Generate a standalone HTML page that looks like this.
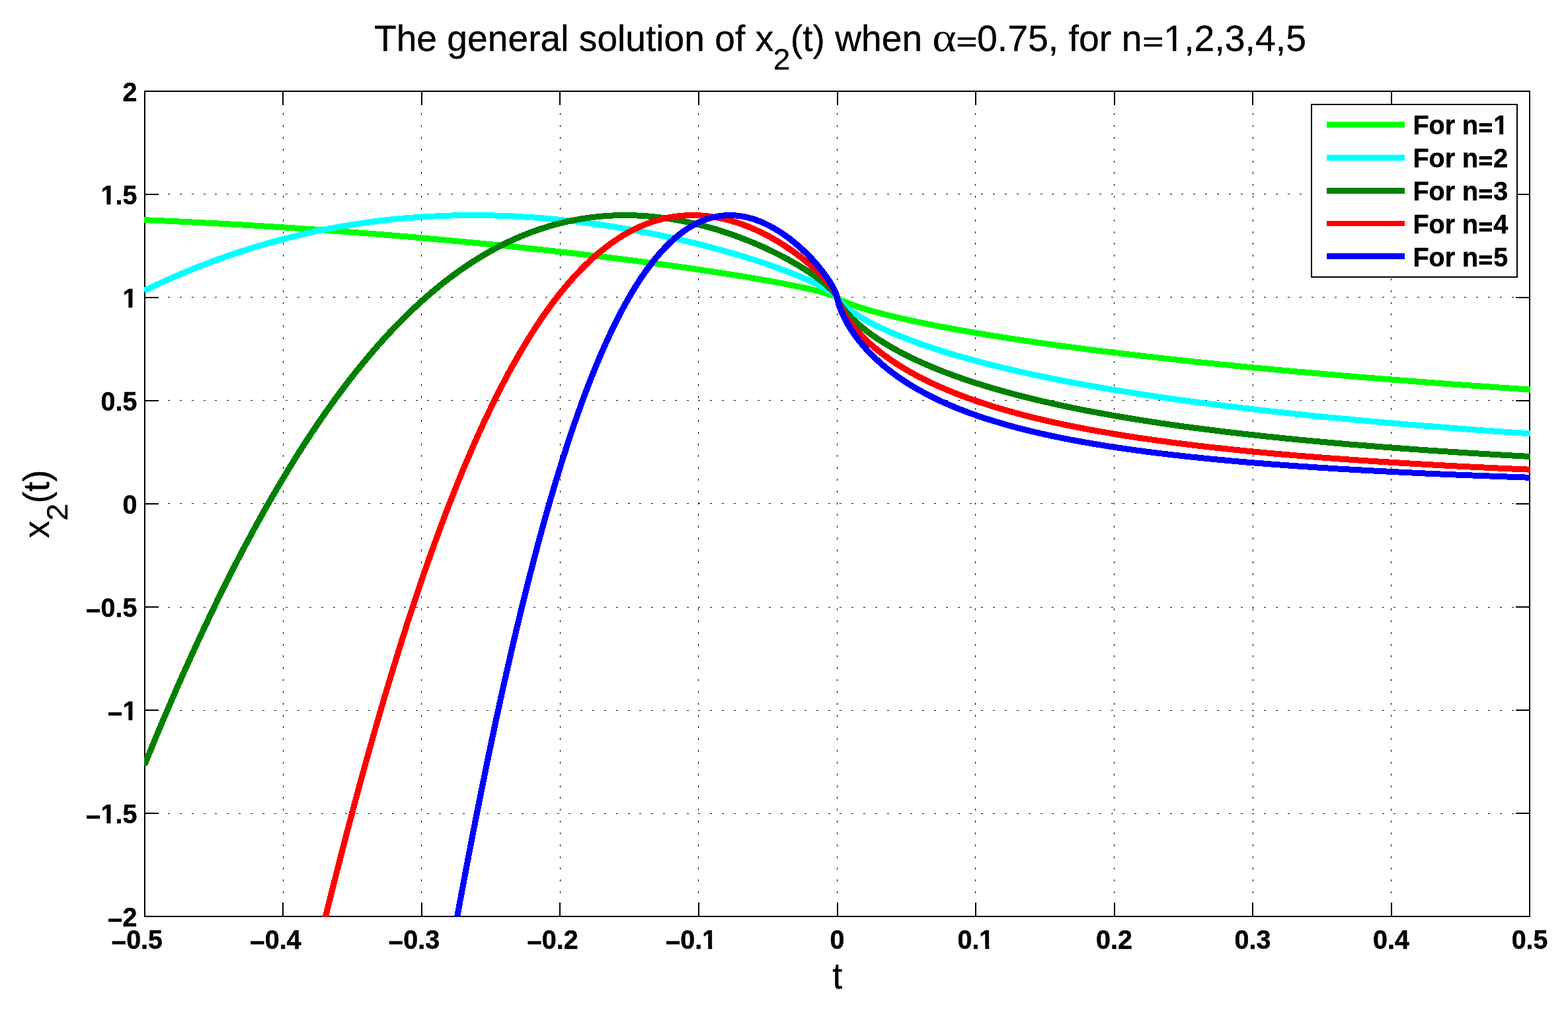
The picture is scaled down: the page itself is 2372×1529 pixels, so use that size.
<!DOCTYPE html>
<html lang="en"><head><meta charset="utf-8"><title>The general solution of x2(t) when α=0.75, for n=1,2,3,4,5</title>
<style>html,body{margin:0;padding:0;background:#fff;overflow:hidden}svg{display:block}</style></head>
<body>
<svg width="2372" height="1529" viewBox="0 0 2372 1529">
<defs><clipPath id="ax"><rect x="218" y="137" width="2097" height="1250"/></clipPath></defs>
<rect width="2372" height="1529" fill="#fff"/>
<g stroke="#000" stroke-width="2" fill="none" shape-rendering="crispEdges">
<rect x="219" y="138" width="2095" height="1248"/>
<line x1="428" y1="1386" x2="428" y2="1365"/>
<line x1="428" y1="138" x2="428" y2="159"/>
<line x1="638" y1="1386" x2="638" y2="1365"/>
<line x1="638" y1="138" x2="638" y2="159"/>
<line x1="847" y1="1386" x2="847" y2="1365"/>
<line x1="847" y1="138" x2="847" y2="159"/>
<line x1="1057" y1="1386" x2="1057" y2="1365"/>
<line x1="1057" y1="138" x2="1057" y2="159"/>
<line x1="1267" y1="1386" x2="1267" y2="1365"/>
<line x1="1267" y1="138" x2="1267" y2="159"/>
<line x1="1476" y1="1386" x2="1476" y2="1365"/>
<line x1="1476" y1="138" x2="1476" y2="159"/>
<line x1="1686" y1="1386" x2="1686" y2="1365"/>
<line x1="1686" y1="138" x2="1686" y2="159"/>
<line x1="1895" y1="1386" x2="1895" y2="1365"/>
<line x1="1895" y1="138" x2="1895" y2="159"/>
<line x1="2105" y1="1386" x2="2105" y2="1365"/>
<line x1="2105" y1="138" x2="2105" y2="159"/>
<line x1="219" y1="294" x2="240" y2="294"/>
<line x1="2314" y1="294" x2="2293" y2="294"/>
<line x1="219" y1="450" x2="240" y2="450"/>
<line x1="2314" y1="450" x2="2293" y2="450"/>
<line x1="219" y1="606" x2="240" y2="606"/>
<line x1="2314" y1="606" x2="2293" y2="606"/>
<line x1="219" y1="762" x2="240" y2="762"/>
<line x1="2314" y1="762" x2="2293" y2="762"/>
<line x1="219" y1="918" x2="240" y2="918"/>
<line x1="2314" y1="918" x2="2293" y2="918"/>
<line x1="219" y1="1074" x2="240" y2="1074"/>
<line x1="2314" y1="1074" x2="2293" y2="1074"/>
<line x1="219" y1="1230" x2="240" y2="1230"/>
<line x1="2314" y1="1230" x2="2293" y2="1230"/>
</g>
<g stroke="#000" stroke-width="1" stroke-dasharray="3 14.8295" shape-rendering="crispEdges" fill="none">
<line x1="428.5" y1="1386.7" x2="428.5" y2="138"/>
<line x1="637.5" y1="1386.7" x2="637.5" y2="138"/>
<line x1="847.5" y1="1386.7" x2="847.5" y2="138"/>
<line x1="1056.5" y1="1386.7" x2="1056.5" y2="138"/>
<line x1="1266.5" y1="1386.7" x2="1266.5" y2="138"/>
<line x1="1475.5" y1="1386.7" x2="1475.5" y2="138"/>
<line x1="1685.5" y1="1386.7" x2="1685.5" y2="138"/>
<line x1="1895.5" y1="1386.7" x2="1895.5" y2="138"/>
<line x1="2104.5" y1="1386.7" x2="2104.5" y2="138"/>
<line x1="218.5" y1="293.5" x2="2314" y2="293.5"/>
<line x1="218.5" y1="449.5" x2="2314" y2="449.5"/>
<line x1="218.5" y1="605.5" x2="2314" y2="605.5"/>
<line x1="218.5" y1="761.5" x2="2314" y2="761.5"/>
<line x1="218.5" y1="918.5" x2="2314" y2="918.5"/>
<line x1="218.5" y1="1074.5" x2="2314" y2="1074.5"/>
<line x1="218.5" y1="1230.5" x2="2314" y2="1230.5"/>
</g>
<g clip-path="url(#ax)" fill="none" stroke-width="7.94" stroke-linejoin="round" shape-rendering="crispEdges">
<g stroke="#00ff00">
<polyline transform="translate(-0.5,-0.5)" points="218.7,332.7 262.4,334.6 306.4,336.8 350.5,339.1 394.5,341.7 438.7,344.5 483.0,347.5 527.3,350.8 571.5,354.2 615.8,357.9 660.1,361.8 704.1,365.9 747.8,370.2 791.0,374.6 833.7,379.3 875.9,384.1 917.0,389.0 937.7,391.5 958.1,394.1 978.3,396.8 998.0,399.4 1017.3,402.0 1036.2,404.7 1054.5,407.3 1072.4,410.0 1089.9,412.7 1106.7,415.3 1122.9,417.9 1138.4,420.5 1153.3,423.1 1167.4,425.6 1181.1,428.1 1193.6,430.6 1203.1,432.5 1212.0,434.3 1220.3,436.1 1227.9,437.9 1235.0,439.6 1241.6,441.2 1247.6,442.8 1252.8,444.4 1256.5,445.5 1259.6,446.6 1262.3,447.6 1264.4,448.5 1265.4,449.0 1266.2,449.6 1266.5,449.9 1266.7,450.3 1267.2,450.8 1268.3,451.6 1269.6,452.4 1271.2,453.3 1272.7,454.2 1274.8,455.2 1276.9,456.2 1280.6,457.7 1284.5,459.3 1289.0,460.9 1294.0,462.7 1300.5,464.8 1307.3,466.9 1314.9,469.2 1322.8,471.4 1331.1,473.6 1340.1,475.9 1349.2,478.2 1358.9,480.5 1369.4,482.9 1380.1,485.2 1391.4,487.6 1402.9,490.0 1415.0,492.4 1427.3,494.7 1440.1,497.1 1453.2,499.5 1466.6,501.8 1480.5,504.2 1494.6,506.6 1509.3,508.9 1524.2,511.3 1539.4,513.6 1570.6,518.2 1588.4,520.7 1606.4,523.2 1624.8,525.6 1643.6,528.1 1662.8,530.5 1682.4,532.9 1702.3,535.3 1722.7,537.7 1764.4,542.4 1807.4,547.1 1851.9,551.6 1897.7,556.1 1944.9,560.5 1993.6,564.8 2043.6,569.1 2095.2,573.3 2148.1,577.4 2202.4,581.4 2257.9,585.3 2314.9,589.2"/>
<polyline transform="translate(0.5,-0.5)" points="218.7,332.7 262.4,334.6 306.4,336.8 350.5,339.1 394.5,341.7 438.7,344.5 483.0,347.5 527.3,350.8 571.5,354.2 615.8,357.9 660.1,361.8 704.1,365.9 747.8,370.2 791.0,374.6 833.7,379.3 875.9,384.1 917.0,389.0 937.7,391.5 958.1,394.1 978.3,396.8 998.0,399.4 1017.3,402.0 1036.2,404.7 1054.5,407.3 1072.4,410.0 1089.9,412.7 1106.7,415.3 1122.9,417.9 1138.4,420.5 1153.3,423.1 1167.4,425.6 1181.1,428.1 1193.6,430.6 1203.1,432.5 1212.0,434.3 1220.3,436.1 1227.9,437.9 1235.0,439.6 1241.6,441.2 1247.6,442.8 1252.8,444.4 1256.5,445.5 1259.6,446.6 1262.3,447.6 1264.4,448.5 1265.4,449.0 1266.2,449.6 1266.5,449.9 1266.7,450.3 1267.2,450.8 1268.3,451.6 1269.6,452.4 1271.2,453.3 1272.7,454.2 1274.8,455.2 1276.9,456.2 1280.6,457.7 1284.5,459.3 1289.0,460.9 1294.0,462.7 1300.5,464.8 1307.3,466.9 1314.9,469.2 1322.8,471.4 1331.1,473.6 1340.1,475.9 1349.2,478.2 1358.9,480.5 1369.4,482.9 1380.1,485.2 1391.4,487.6 1402.9,490.0 1415.0,492.4 1427.3,494.7 1440.1,497.1 1453.2,499.5 1466.6,501.8 1480.5,504.2 1494.6,506.6 1509.3,508.9 1524.2,511.3 1539.4,513.6 1570.6,518.2 1588.4,520.7 1606.4,523.2 1624.8,525.6 1643.6,528.1 1662.8,530.5 1682.4,532.9 1702.3,535.3 1722.7,537.7 1764.4,542.4 1807.4,547.1 1851.9,551.6 1897.7,556.1 1944.9,560.5 1993.6,564.8 2043.6,569.1 2095.2,573.3 2148.1,577.4 2202.4,581.4 2257.9,585.3 2314.9,589.2"/>
<polyline transform="translate(-0.5,0.5)" points="218.7,332.7 262.4,334.6 306.4,336.8 350.5,339.1 394.5,341.7 438.7,344.5 483.0,347.5 527.3,350.8 571.5,354.2 615.8,357.9 660.1,361.8 704.1,365.9 747.8,370.2 791.0,374.6 833.7,379.3 875.9,384.1 917.0,389.0 937.7,391.5 958.1,394.1 978.3,396.8 998.0,399.4 1017.3,402.0 1036.2,404.7 1054.5,407.3 1072.4,410.0 1089.9,412.7 1106.7,415.3 1122.9,417.9 1138.4,420.5 1153.3,423.1 1167.4,425.6 1181.1,428.1 1193.6,430.6 1203.1,432.5 1212.0,434.3 1220.3,436.1 1227.9,437.9 1235.0,439.6 1241.6,441.2 1247.6,442.8 1252.8,444.4 1256.5,445.5 1259.6,446.6 1262.3,447.6 1264.4,448.5 1265.4,449.0 1266.2,449.6 1266.5,449.9 1266.7,450.3 1267.2,450.8 1268.3,451.6 1269.6,452.4 1271.2,453.3 1272.7,454.2 1274.8,455.2 1276.9,456.2 1280.6,457.7 1284.5,459.3 1289.0,460.9 1294.0,462.7 1300.5,464.8 1307.3,466.9 1314.9,469.2 1322.8,471.4 1331.1,473.6 1340.1,475.9 1349.2,478.2 1358.9,480.5 1369.4,482.9 1380.1,485.2 1391.4,487.6 1402.9,490.0 1415.0,492.4 1427.3,494.7 1440.1,497.1 1453.2,499.5 1466.6,501.8 1480.5,504.2 1494.6,506.6 1509.3,508.9 1524.2,511.3 1539.4,513.6 1570.6,518.2 1588.4,520.7 1606.4,523.2 1624.8,525.6 1643.6,528.1 1662.8,530.5 1682.4,532.9 1702.3,535.3 1722.7,537.7 1764.4,542.4 1807.4,547.1 1851.9,551.6 1897.7,556.1 1944.9,560.5 1993.6,564.8 2043.6,569.1 2095.2,573.3 2148.1,577.4 2202.4,581.4 2257.9,585.3 2314.9,589.2"/>
<polyline transform="translate(0.5,0.5)" points="218.7,332.7 262.4,334.6 306.4,336.8 350.5,339.1 394.5,341.7 438.7,344.5 483.0,347.5 527.3,350.8 571.5,354.2 615.8,357.9 660.1,361.8 704.1,365.9 747.8,370.2 791.0,374.6 833.7,379.3 875.9,384.1 917.0,389.0 937.7,391.5 958.1,394.1 978.3,396.8 998.0,399.4 1017.3,402.0 1036.2,404.7 1054.5,407.3 1072.4,410.0 1089.9,412.7 1106.7,415.3 1122.9,417.9 1138.4,420.5 1153.3,423.1 1167.4,425.6 1181.1,428.1 1193.6,430.6 1203.1,432.5 1212.0,434.3 1220.3,436.1 1227.9,437.9 1235.0,439.6 1241.6,441.2 1247.6,442.8 1252.8,444.4 1256.5,445.5 1259.6,446.6 1262.3,447.6 1264.4,448.5 1265.4,449.0 1266.2,449.6 1266.5,449.9 1266.7,450.3 1267.2,450.8 1268.3,451.6 1269.6,452.4 1271.2,453.3 1272.7,454.2 1274.8,455.2 1276.9,456.2 1280.6,457.7 1284.5,459.3 1289.0,460.9 1294.0,462.7 1300.5,464.8 1307.3,466.9 1314.9,469.2 1322.8,471.4 1331.1,473.6 1340.1,475.9 1349.2,478.2 1358.9,480.5 1369.4,482.9 1380.1,485.2 1391.4,487.6 1402.9,490.0 1415.0,492.4 1427.3,494.7 1440.1,497.1 1453.2,499.5 1466.6,501.8 1480.5,504.2 1494.6,506.6 1509.3,508.9 1524.2,511.3 1539.4,513.6 1570.6,518.2 1588.4,520.7 1606.4,523.2 1624.8,525.6 1643.6,528.1 1662.8,530.5 1682.4,532.9 1702.3,535.3 1722.7,537.7 1764.4,542.4 1807.4,547.1 1851.9,551.6 1897.7,556.1 1944.9,560.5 1993.6,564.8 2043.6,569.1 2095.2,573.3 2148.1,577.4 2202.4,581.4 2257.9,585.3 2314.9,589.2"/>
</g>
<g stroke="#00ffff">
<polyline transform="translate(-0.5,-0.5)" points="218.7,439.5 227.9,435.1 237.0,430.8 246.2,426.5 255.6,422.3 264.8,418.2 274.0,414.3 283.1,410.5 292.6,406.6 301.7,402.9 311.2,399.3 320.6,395.7 330.0,392.2 339.5,388.8 348.9,385.6 358.3,382.4 367.7,379.3 377.2,376.3 386.6,373.4 396.0,370.6 405.7,367.8 415.2,365.1 424.8,362.5 434.3,360.1 444.0,357.6 453.7,355.3 463.3,353.1 473.0,350.9 482.7,348.9 492.4,346.9 502.1,345.1 511.8,343.3 521.8,341.6 531.5,340.0 541.4,338.4 551.4,337.0 561.3,335.6 571.3,334.3 581.2,333.1 591.2,332.0 601.1,331.0 611.1,330.1 621.3,329.3 631.3,328.5 641.5,327.8 651.7,327.3 661.9,326.8 672.1,326.4 682.3,326.0 692.5,325.8 703.0,325.7 713.2,325.6 723.7,325.6 733.9,325.7 744.4,325.9 754.9,326.2 765.4,326.6 775.8,327.0 786.3,327.6 796.8,328.2 807.5,328.9 818.0,329.7 828.8,330.6 839.2,331.6 850.0,332.7 859.4,333.7 868.8,334.7 878.3,335.9 888.0,337.1 897.4,338.4 906.8,339.7 916.2,341.1 925.9,342.6 935.4,344.1 945.1,345.7 954.5,347.4 964.2,349.1 973.9,350.9 983.3,352.8 993.0,354.7 1002.4,356.7 1012.1,358.8 1021.5,360.8 1031.2,363.1 1040.7,365.3 1050.1,367.6 1059.5,369.9 1068.9,372.3 1078.4,374.8 1087.8,377.4 1097.0,379.9 1106.1,382.5 1115.1,385.1 1124.0,387.8 1132.9,390.6 1141.5,393.3 1149.9,396.0 1164.3,400.9 1178.2,405.8 1191.3,410.7 1197.6,413.1 1203.8,415.6 1209.9,418.1 1215.6,420.5 1221.1,422.9 1226.4,425.3 1231.4,427.6 1236.1,429.8 1240.5,432.1 1244.7,434.3 1250.2,437.3 1255.2,440.3 1259.1,442.9 1260.9,444.3 1262.5,445.5 1263.6,446.4 1264.6,447.4 1265.4,448.2 1265.9,448.9 1266.2,449.3 1266.5,449.9 1266.7,450.7 1267.0,451.2 1267.5,452.1 1268.5,453.6 1269.6,455.0 1270.6,456.2 1272.0,457.6 1274.6,460.2 1276.4,461.8 1278.5,463.6 1280.6,465.3 1283.0,467.2 1287.9,470.8 1293.4,474.5 1299.7,478.4 1306.3,482.3 1313.3,486.2 1320.7,490.0 1328.5,493.9 1336.6,497.7 1345.3,501.6 1354.2,505.4 1363.9,509.3 1374.1,513.3 1384.6,517.2 1395.3,521.1 1406.6,524.9 1418.1,528.7 1429.9,532.4 1442.2,536.2 1454.8,539.8 1467.6,543.4 1481.0,547.0 1494.6,550.6 1508.5,554.0 1522.6,557.5 1537.3,560.9 1552.2,564.2 1569.2,567.9 1586.5,571.5 1604.3,575.1 1622.7,578.6 1641.3,582.0 1660.4,585.4 1680.0,588.8 1700.0,592.1 1720.4,595.3 1741.1,598.5 1762.3,601.6 1783.8,604.7 1805.8,607.7 1828.3,610.6 1851.4,613.6 1874.7,616.4 1898.5,619.2 1922.9,622.0 1947.7,624.7 1972.9,627.4 1998.6,630.0 2024.8,632.5 2051.5,635.1 2078.7,637.6 2106.5,640.0 2134.8,642.4 2163.3,644.7 2192.7,647.0 2222.3,649.3 2252.6,651.5 2283.6,653.7 2314.9,655.8"/>
<polyline transform="translate(0.5,-0.5)" points="218.7,439.5 227.9,435.1 237.0,430.8 246.2,426.5 255.6,422.3 264.8,418.2 274.0,414.3 283.1,410.5 292.6,406.6 301.7,402.9 311.2,399.3 320.6,395.7 330.0,392.2 339.5,388.8 348.9,385.6 358.3,382.4 367.7,379.3 377.2,376.3 386.6,373.4 396.0,370.6 405.7,367.8 415.2,365.1 424.8,362.5 434.3,360.1 444.0,357.6 453.7,355.3 463.3,353.1 473.0,350.9 482.7,348.9 492.4,346.9 502.1,345.1 511.8,343.3 521.8,341.6 531.5,340.0 541.4,338.4 551.4,337.0 561.3,335.6 571.3,334.3 581.2,333.1 591.2,332.0 601.1,331.0 611.1,330.1 621.3,329.3 631.3,328.5 641.5,327.8 651.7,327.3 661.9,326.8 672.1,326.4 682.3,326.0 692.5,325.8 703.0,325.7 713.2,325.6 723.7,325.6 733.9,325.7 744.4,325.9 754.9,326.2 765.4,326.6 775.8,327.0 786.3,327.6 796.8,328.2 807.5,328.9 818.0,329.7 828.8,330.6 839.2,331.6 850.0,332.7 859.4,333.7 868.8,334.7 878.3,335.9 888.0,337.1 897.4,338.4 906.8,339.7 916.2,341.1 925.9,342.6 935.4,344.1 945.1,345.7 954.5,347.4 964.2,349.1 973.9,350.9 983.3,352.8 993.0,354.7 1002.4,356.7 1012.1,358.8 1021.5,360.8 1031.2,363.1 1040.7,365.3 1050.1,367.6 1059.5,369.9 1068.9,372.3 1078.4,374.8 1087.8,377.4 1097.0,379.9 1106.1,382.5 1115.1,385.1 1124.0,387.8 1132.9,390.6 1141.5,393.3 1149.9,396.0 1164.3,400.9 1178.2,405.8 1191.3,410.7 1197.6,413.1 1203.8,415.6 1209.9,418.1 1215.6,420.5 1221.1,422.9 1226.4,425.3 1231.4,427.6 1236.1,429.8 1240.5,432.1 1244.7,434.3 1250.2,437.3 1255.2,440.3 1259.1,442.9 1260.9,444.3 1262.5,445.5 1263.6,446.4 1264.6,447.4 1265.4,448.2 1265.9,448.9 1266.2,449.3 1266.5,449.9 1266.7,450.7 1267.0,451.2 1267.5,452.1 1268.5,453.6 1269.6,455.0 1270.6,456.2 1272.0,457.6 1274.6,460.2 1276.4,461.8 1278.5,463.6 1280.6,465.3 1283.0,467.2 1287.9,470.8 1293.4,474.5 1299.7,478.4 1306.3,482.3 1313.3,486.2 1320.7,490.0 1328.5,493.9 1336.6,497.7 1345.3,501.6 1354.2,505.4 1363.9,509.3 1374.1,513.3 1384.6,517.2 1395.3,521.1 1406.6,524.9 1418.1,528.7 1429.9,532.4 1442.2,536.2 1454.8,539.8 1467.6,543.4 1481.0,547.0 1494.6,550.6 1508.5,554.0 1522.6,557.5 1537.3,560.9 1552.2,564.2 1569.2,567.9 1586.5,571.5 1604.3,575.1 1622.7,578.6 1641.3,582.0 1660.4,585.4 1680.0,588.8 1700.0,592.1 1720.4,595.3 1741.1,598.5 1762.3,601.6 1783.8,604.7 1805.8,607.7 1828.3,610.6 1851.4,613.6 1874.7,616.4 1898.5,619.2 1922.9,622.0 1947.7,624.7 1972.9,627.4 1998.6,630.0 2024.8,632.5 2051.5,635.1 2078.7,637.6 2106.5,640.0 2134.8,642.4 2163.3,644.7 2192.7,647.0 2222.3,649.3 2252.6,651.5 2283.6,653.7 2314.9,655.8"/>
<polyline transform="translate(-0.5,0.5)" points="218.7,439.5 227.9,435.1 237.0,430.8 246.2,426.5 255.6,422.3 264.8,418.2 274.0,414.3 283.1,410.5 292.6,406.6 301.7,402.9 311.2,399.3 320.6,395.7 330.0,392.2 339.5,388.8 348.9,385.6 358.3,382.4 367.7,379.3 377.2,376.3 386.6,373.4 396.0,370.6 405.7,367.8 415.2,365.1 424.8,362.5 434.3,360.1 444.0,357.6 453.7,355.3 463.3,353.1 473.0,350.9 482.7,348.9 492.4,346.9 502.1,345.1 511.8,343.3 521.8,341.6 531.5,340.0 541.4,338.4 551.4,337.0 561.3,335.6 571.3,334.3 581.2,333.1 591.2,332.0 601.1,331.0 611.1,330.1 621.3,329.3 631.3,328.5 641.5,327.8 651.7,327.3 661.9,326.8 672.1,326.4 682.3,326.0 692.5,325.8 703.0,325.7 713.2,325.6 723.7,325.6 733.9,325.7 744.4,325.9 754.9,326.2 765.4,326.6 775.8,327.0 786.3,327.6 796.8,328.2 807.5,328.9 818.0,329.7 828.8,330.6 839.2,331.6 850.0,332.7 859.4,333.7 868.8,334.7 878.3,335.9 888.0,337.1 897.4,338.4 906.8,339.7 916.2,341.1 925.9,342.6 935.4,344.1 945.1,345.7 954.5,347.4 964.2,349.1 973.9,350.9 983.3,352.8 993.0,354.7 1002.4,356.7 1012.1,358.8 1021.5,360.8 1031.2,363.1 1040.7,365.3 1050.1,367.6 1059.5,369.9 1068.9,372.3 1078.4,374.8 1087.8,377.4 1097.0,379.9 1106.1,382.5 1115.1,385.1 1124.0,387.8 1132.9,390.6 1141.5,393.3 1149.9,396.0 1164.3,400.9 1178.2,405.8 1191.3,410.7 1197.6,413.1 1203.8,415.6 1209.9,418.1 1215.6,420.5 1221.1,422.9 1226.4,425.3 1231.4,427.6 1236.1,429.8 1240.5,432.1 1244.7,434.3 1250.2,437.3 1255.2,440.3 1259.1,442.9 1260.9,444.3 1262.5,445.5 1263.6,446.4 1264.6,447.4 1265.4,448.2 1265.9,448.9 1266.2,449.3 1266.5,449.9 1266.7,450.7 1267.0,451.2 1267.5,452.1 1268.5,453.6 1269.6,455.0 1270.6,456.2 1272.0,457.6 1274.6,460.2 1276.4,461.8 1278.5,463.6 1280.6,465.3 1283.0,467.2 1287.9,470.8 1293.4,474.5 1299.7,478.4 1306.3,482.3 1313.3,486.2 1320.7,490.0 1328.5,493.9 1336.6,497.7 1345.3,501.6 1354.2,505.4 1363.9,509.3 1374.1,513.3 1384.6,517.2 1395.3,521.1 1406.6,524.9 1418.1,528.7 1429.9,532.4 1442.2,536.2 1454.8,539.8 1467.6,543.4 1481.0,547.0 1494.6,550.6 1508.5,554.0 1522.6,557.5 1537.3,560.9 1552.2,564.2 1569.2,567.9 1586.5,571.5 1604.3,575.1 1622.7,578.6 1641.3,582.0 1660.4,585.4 1680.0,588.8 1700.0,592.1 1720.4,595.3 1741.1,598.5 1762.3,601.6 1783.8,604.7 1805.8,607.7 1828.3,610.6 1851.4,613.6 1874.7,616.4 1898.5,619.2 1922.9,622.0 1947.7,624.7 1972.9,627.4 1998.6,630.0 2024.8,632.5 2051.5,635.1 2078.7,637.6 2106.5,640.0 2134.8,642.4 2163.3,644.7 2192.7,647.0 2222.3,649.3 2252.6,651.5 2283.6,653.7 2314.9,655.8"/>
<polyline transform="translate(0.5,0.5)" points="218.7,439.5 227.9,435.1 237.0,430.8 246.2,426.5 255.6,422.3 264.8,418.2 274.0,414.3 283.1,410.5 292.6,406.6 301.7,402.9 311.2,399.3 320.6,395.7 330.0,392.2 339.5,388.8 348.9,385.6 358.3,382.4 367.7,379.3 377.2,376.3 386.6,373.4 396.0,370.6 405.7,367.8 415.2,365.1 424.8,362.5 434.3,360.1 444.0,357.6 453.7,355.3 463.3,353.1 473.0,350.9 482.7,348.9 492.4,346.9 502.1,345.1 511.8,343.3 521.8,341.6 531.5,340.0 541.4,338.4 551.4,337.0 561.3,335.6 571.3,334.3 581.2,333.1 591.2,332.0 601.1,331.0 611.1,330.1 621.3,329.3 631.3,328.5 641.5,327.8 651.7,327.3 661.9,326.8 672.1,326.4 682.3,326.0 692.5,325.8 703.0,325.7 713.2,325.6 723.7,325.6 733.9,325.7 744.4,325.9 754.9,326.2 765.4,326.6 775.8,327.0 786.3,327.6 796.8,328.2 807.5,328.9 818.0,329.7 828.8,330.6 839.2,331.6 850.0,332.7 859.4,333.7 868.8,334.7 878.3,335.9 888.0,337.1 897.4,338.4 906.8,339.7 916.2,341.1 925.9,342.6 935.4,344.1 945.1,345.7 954.5,347.4 964.2,349.1 973.9,350.9 983.3,352.8 993.0,354.7 1002.4,356.7 1012.1,358.8 1021.5,360.8 1031.2,363.1 1040.7,365.3 1050.1,367.6 1059.5,369.9 1068.9,372.3 1078.4,374.8 1087.8,377.4 1097.0,379.9 1106.1,382.5 1115.1,385.1 1124.0,387.8 1132.9,390.6 1141.5,393.3 1149.9,396.0 1164.3,400.9 1178.2,405.8 1191.3,410.7 1197.6,413.1 1203.8,415.6 1209.9,418.1 1215.6,420.5 1221.1,422.9 1226.4,425.3 1231.4,427.6 1236.1,429.8 1240.5,432.1 1244.7,434.3 1250.2,437.3 1255.2,440.3 1259.1,442.9 1260.9,444.3 1262.5,445.5 1263.6,446.4 1264.6,447.4 1265.4,448.2 1265.9,448.9 1266.2,449.3 1266.5,449.9 1266.7,450.7 1267.0,451.2 1267.5,452.1 1268.5,453.6 1269.6,455.0 1270.6,456.2 1272.0,457.6 1274.6,460.2 1276.4,461.8 1278.5,463.6 1280.6,465.3 1283.0,467.2 1287.9,470.8 1293.4,474.5 1299.7,478.4 1306.3,482.3 1313.3,486.2 1320.7,490.0 1328.5,493.9 1336.6,497.7 1345.3,501.6 1354.2,505.4 1363.9,509.3 1374.1,513.3 1384.6,517.2 1395.3,521.1 1406.6,524.9 1418.1,528.7 1429.9,532.4 1442.2,536.2 1454.8,539.8 1467.6,543.4 1481.0,547.0 1494.6,550.6 1508.5,554.0 1522.6,557.5 1537.3,560.9 1552.2,564.2 1569.2,567.9 1586.5,571.5 1604.3,575.1 1622.7,578.6 1641.3,582.0 1660.4,585.4 1680.0,588.8 1700.0,592.1 1720.4,595.3 1741.1,598.5 1762.3,601.6 1783.8,604.7 1805.8,607.7 1828.3,610.6 1851.4,613.6 1874.7,616.4 1898.5,619.2 1922.9,622.0 1947.7,624.7 1972.9,627.4 1998.6,630.0 2024.8,632.5 2051.5,635.1 2078.7,637.6 2106.5,640.0 2134.8,642.4 2163.3,644.7 2192.7,647.0 2222.3,649.3 2252.6,651.5 2283.6,653.7 2314.9,655.8"/>
</g>
<g stroke="#008000">
<polyline transform="translate(-0.5,-0.5)" points="218.7,1156.6 228.7,1132.3 238.6,1108.3 248.6,1084.8 258.3,1062.2 268.2,1039.3 277.9,1017.4 287.6,995.9 297.3,974.7 307.0,953.9 316.7,933.4 326.4,913.2 336.0,893.5 345.7,874.0 355.4,855.0 365.1,836.3 374.8,817.9 384.5,800.0 394.2,782.3 403.9,765.1 413.6,748.2 423.3,731.6 433.0,715.4 442.7,699.6 452.3,684.2 462.0,669.0 471.7,654.3 481.4,639.9 491.1,625.9 500.8,612.2 510.5,598.8 520.2,585.8 530.1,572.9 539.8,560.6 549.8,548.3 559.5,536.8 569.4,525.2 579.1,514.3 584.1,508.9 589.1,503.5 594.1,498.2 599.0,493.0 604.0,487.9 609.0,482.9 614.0,478.0 618.9,473.1 623.9,468.3 628.9,463.7 633.9,459.1 638.8,454.6 643.8,450.2 649.1,445.6 654.0,441.4 659.0,437.2 664.0,433.1 669.2,428.9 674.2,425.0 679.4,421.0 684.4,417.3 689.7,413.4 694.6,409.8 699.9,406.2 704.9,402.8 710.1,399.3 715.1,396.0 720.3,392.7 725.5,389.5 730.8,386.3 735.8,383.4 741.0,380.4 746.2,377.5 751.5,374.7 756.7,372.0 762.0,369.3 767.2,366.8 772.4,364.3 777.7,361.9 782.9,359.6 788.2,357.4 793.7,355.1 798.9,353.0 804.1,351.0 809.4,349.1 814.9,347.2 820.1,345.5 825.6,343.7 830.8,342.1 836.3,340.5 841.6,339.1 847.1,337.7 852.3,336.4 857.8,335.1 865.7,333.5 873.5,332.0 881.4,330.6 889.3,329.5 897.1,328.4 905.0,327.6 912.8,326.9 921.0,326.3 929.1,325.9 937.2,325.7 945.3,325.6 953.4,325.7 961.6,325.9 969.7,326.3 977.8,326.8 986.2,327.5 994.3,328.4 1002.7,329.4 1011.1,330.6 1019.4,331.9 1027.8,333.4 1036.2,335.0 1044.6,336.8 1053.2,338.8 1061.6,340.9 1070.3,343.2 1078.6,345.5 1087.3,348.1 1095.9,350.9 1104.3,353.7 1113.0,356.8 1121.3,359.9 1129.2,363.0 1137.1,366.1 1144.9,369.5 1152.8,372.9 1160.4,376.4 1168.0,380.0 1175.6,383.8 1182.9,387.5 1190.2,391.4 1197.3,395.3 1204.1,399.2 1210.9,403.3 1217.5,407.3 1223.8,411.4 1229.8,415.5 1235.3,419.4 1239.2,422.3 1243.1,425.3 1246.8,428.2 1250.2,431.1 1253.4,433.9 1256.2,436.6 1258.9,439.2 1260.9,441.5 1262.3,443.0 1263.6,444.7 1264.6,446.2 1265.4,447.4 1266.2,449.0 1266.5,449.9 1266.7,451.1 1267.2,452.6 1268.0,454.4 1268.8,456.0 1270.1,458.4 1271.4,460.6 1273.0,463.0 1274.8,465.5 1276.7,467.9 1278.8,470.5 1281.1,473.3 1283.5,475.9 1286.1,478.7 1288.7,481.4 1291.3,483.9 1294.2,486.6 1297.1,489.2 1300.2,491.9 1303.4,494.5 1306.8,497.3 1310.2,499.9 1313.9,502.7 1317.5,505.4 1321.2,508.0 1325.1,510.7 1329.1,513.3 1333.0,515.8 1337.2,518.4 1341.4,521.0 1345.8,523.6 1350.3,526.2 1354.7,528.7 1359.7,531.4 1364.7,534.0 1369.7,536.6 1374.9,539.2 1380.1,541.8 1385.6,544.4 1391.1,546.9 1396.9,549.5 1402.7,552.0 1408.4,554.5 1420.5,559.4 1432.8,564.2 1445.4,568.8 1458.5,573.4 1471.8,577.9 1485.7,582.3 1500.1,586.7 1514.8,590.9 1529.7,595.0 1545.2,599.1 1561.1,603.1 1577.1,606.9 1593.6,610.6 1610.6,614.3 1627.9,617.9 1645.7,621.4 1663.8,624.8 1682.4,628.2 1701.3,631.4 1720.6,634.6 1740.6,637.7 1761.0,640.8 1781.9,643.8 1803.4,646.7 1825.2,649.5 1847.4,652.3 1870.2,655.0 1893.5,657.6 1917.4,660.2 1941.7,662.7 1966.9,665.2 1992.3,667.6 2018.5,670.0 2045.2,672.3 2072.7,674.5 2100.7,676.7 2129.3,678.8 2158.6,680.9 2188.5,682.9 2219.1,684.9 2250.3,686.8 2282.2,688.7 2314.9,690.5"/>
<polyline transform="translate(0.5,-0.5)" points="218.7,1156.6 228.7,1132.3 238.6,1108.3 248.6,1084.8 258.3,1062.2 268.2,1039.3 277.9,1017.4 287.6,995.9 297.3,974.7 307.0,953.9 316.7,933.4 326.4,913.2 336.0,893.5 345.7,874.0 355.4,855.0 365.1,836.3 374.8,817.9 384.5,800.0 394.2,782.3 403.9,765.1 413.6,748.2 423.3,731.6 433.0,715.4 442.7,699.6 452.3,684.2 462.0,669.0 471.7,654.3 481.4,639.9 491.1,625.9 500.8,612.2 510.5,598.8 520.2,585.8 530.1,572.9 539.8,560.6 549.8,548.3 559.5,536.8 569.4,525.2 579.1,514.3 584.1,508.9 589.1,503.5 594.1,498.2 599.0,493.0 604.0,487.9 609.0,482.9 614.0,478.0 618.9,473.1 623.9,468.3 628.9,463.7 633.9,459.1 638.8,454.6 643.8,450.2 649.1,445.6 654.0,441.4 659.0,437.2 664.0,433.1 669.2,428.9 674.2,425.0 679.4,421.0 684.4,417.3 689.7,413.4 694.6,409.8 699.9,406.2 704.9,402.8 710.1,399.3 715.1,396.0 720.3,392.7 725.5,389.5 730.8,386.3 735.8,383.4 741.0,380.4 746.2,377.5 751.5,374.7 756.7,372.0 762.0,369.3 767.2,366.8 772.4,364.3 777.7,361.9 782.9,359.6 788.2,357.4 793.7,355.1 798.9,353.0 804.1,351.0 809.4,349.1 814.9,347.2 820.1,345.5 825.6,343.7 830.8,342.1 836.3,340.5 841.6,339.1 847.1,337.7 852.3,336.4 857.8,335.1 865.7,333.5 873.5,332.0 881.4,330.6 889.3,329.5 897.1,328.4 905.0,327.6 912.8,326.9 921.0,326.3 929.1,325.9 937.2,325.7 945.3,325.6 953.4,325.7 961.6,325.9 969.7,326.3 977.8,326.8 986.2,327.5 994.3,328.4 1002.7,329.4 1011.1,330.6 1019.4,331.9 1027.8,333.4 1036.2,335.0 1044.6,336.8 1053.2,338.8 1061.6,340.9 1070.3,343.2 1078.6,345.5 1087.3,348.1 1095.9,350.9 1104.3,353.7 1113.0,356.8 1121.3,359.9 1129.2,363.0 1137.1,366.1 1144.9,369.5 1152.8,372.9 1160.4,376.4 1168.0,380.0 1175.6,383.8 1182.9,387.5 1190.2,391.4 1197.3,395.3 1204.1,399.2 1210.9,403.3 1217.5,407.3 1223.8,411.4 1229.8,415.5 1235.3,419.4 1239.2,422.3 1243.1,425.3 1246.8,428.2 1250.2,431.1 1253.4,433.9 1256.2,436.6 1258.9,439.2 1260.9,441.5 1262.3,443.0 1263.6,444.7 1264.6,446.2 1265.4,447.4 1266.2,449.0 1266.5,449.9 1266.7,451.1 1267.2,452.6 1268.0,454.4 1268.8,456.0 1270.1,458.4 1271.4,460.6 1273.0,463.0 1274.8,465.5 1276.7,467.9 1278.8,470.5 1281.1,473.3 1283.5,475.9 1286.1,478.7 1288.7,481.4 1291.3,483.9 1294.2,486.6 1297.1,489.2 1300.2,491.9 1303.4,494.5 1306.8,497.3 1310.2,499.9 1313.9,502.7 1317.5,505.4 1321.2,508.0 1325.1,510.7 1329.1,513.3 1333.0,515.8 1337.2,518.4 1341.4,521.0 1345.8,523.6 1350.3,526.2 1354.7,528.7 1359.7,531.4 1364.7,534.0 1369.7,536.6 1374.9,539.2 1380.1,541.8 1385.6,544.4 1391.1,546.9 1396.9,549.5 1402.7,552.0 1408.4,554.5 1420.5,559.4 1432.8,564.2 1445.4,568.8 1458.5,573.4 1471.8,577.9 1485.7,582.3 1500.1,586.7 1514.8,590.9 1529.7,595.0 1545.2,599.1 1561.1,603.1 1577.1,606.9 1593.6,610.6 1610.6,614.3 1627.9,617.9 1645.7,621.4 1663.8,624.8 1682.4,628.2 1701.3,631.4 1720.6,634.6 1740.6,637.7 1761.0,640.8 1781.9,643.8 1803.4,646.7 1825.2,649.5 1847.4,652.3 1870.2,655.0 1893.5,657.6 1917.4,660.2 1941.7,662.7 1966.9,665.2 1992.3,667.6 2018.5,670.0 2045.2,672.3 2072.7,674.5 2100.7,676.7 2129.3,678.8 2158.6,680.9 2188.5,682.9 2219.1,684.9 2250.3,686.8 2282.2,688.7 2314.9,690.5"/>
<polyline transform="translate(-0.5,0.5)" points="218.7,1156.6 228.7,1132.3 238.6,1108.3 248.6,1084.8 258.3,1062.2 268.2,1039.3 277.9,1017.4 287.6,995.9 297.3,974.7 307.0,953.9 316.7,933.4 326.4,913.2 336.0,893.5 345.7,874.0 355.4,855.0 365.1,836.3 374.8,817.9 384.5,800.0 394.2,782.3 403.9,765.1 413.6,748.2 423.3,731.6 433.0,715.4 442.7,699.6 452.3,684.2 462.0,669.0 471.7,654.3 481.4,639.9 491.1,625.9 500.8,612.2 510.5,598.8 520.2,585.8 530.1,572.9 539.8,560.6 549.8,548.3 559.5,536.8 569.4,525.2 579.1,514.3 584.1,508.9 589.1,503.5 594.1,498.2 599.0,493.0 604.0,487.9 609.0,482.9 614.0,478.0 618.9,473.1 623.9,468.3 628.9,463.7 633.9,459.1 638.8,454.6 643.8,450.2 649.1,445.6 654.0,441.4 659.0,437.2 664.0,433.1 669.2,428.9 674.2,425.0 679.4,421.0 684.4,417.3 689.7,413.4 694.6,409.8 699.9,406.2 704.9,402.8 710.1,399.3 715.1,396.0 720.3,392.7 725.5,389.5 730.8,386.3 735.8,383.4 741.0,380.4 746.2,377.5 751.5,374.7 756.7,372.0 762.0,369.3 767.2,366.8 772.4,364.3 777.7,361.9 782.9,359.6 788.2,357.4 793.7,355.1 798.9,353.0 804.1,351.0 809.4,349.1 814.9,347.2 820.1,345.5 825.6,343.7 830.8,342.1 836.3,340.5 841.6,339.1 847.1,337.7 852.3,336.4 857.8,335.1 865.7,333.5 873.5,332.0 881.4,330.6 889.3,329.5 897.1,328.4 905.0,327.6 912.8,326.9 921.0,326.3 929.1,325.9 937.2,325.7 945.3,325.6 953.4,325.7 961.6,325.9 969.7,326.3 977.8,326.8 986.2,327.5 994.3,328.4 1002.7,329.4 1011.1,330.6 1019.4,331.9 1027.8,333.4 1036.2,335.0 1044.6,336.8 1053.2,338.8 1061.6,340.9 1070.3,343.2 1078.6,345.5 1087.3,348.1 1095.9,350.9 1104.3,353.7 1113.0,356.8 1121.3,359.9 1129.2,363.0 1137.1,366.1 1144.9,369.5 1152.8,372.9 1160.4,376.4 1168.0,380.0 1175.6,383.8 1182.9,387.5 1190.2,391.4 1197.3,395.3 1204.1,399.2 1210.9,403.3 1217.5,407.3 1223.8,411.4 1229.8,415.5 1235.3,419.4 1239.2,422.3 1243.1,425.3 1246.8,428.2 1250.2,431.1 1253.4,433.9 1256.2,436.6 1258.9,439.2 1260.9,441.5 1262.3,443.0 1263.6,444.7 1264.6,446.2 1265.4,447.4 1266.2,449.0 1266.5,449.9 1266.7,451.1 1267.2,452.6 1268.0,454.4 1268.8,456.0 1270.1,458.4 1271.4,460.6 1273.0,463.0 1274.8,465.5 1276.7,467.9 1278.8,470.5 1281.1,473.3 1283.5,475.9 1286.1,478.7 1288.7,481.4 1291.3,483.9 1294.2,486.6 1297.1,489.2 1300.2,491.9 1303.4,494.5 1306.8,497.3 1310.2,499.9 1313.9,502.7 1317.5,505.4 1321.2,508.0 1325.1,510.7 1329.1,513.3 1333.0,515.8 1337.2,518.4 1341.4,521.0 1345.8,523.6 1350.3,526.2 1354.7,528.7 1359.7,531.4 1364.7,534.0 1369.7,536.6 1374.9,539.2 1380.1,541.8 1385.6,544.4 1391.1,546.9 1396.9,549.5 1402.7,552.0 1408.4,554.5 1420.5,559.4 1432.8,564.2 1445.4,568.8 1458.5,573.4 1471.8,577.9 1485.7,582.3 1500.1,586.7 1514.8,590.9 1529.7,595.0 1545.2,599.1 1561.1,603.1 1577.1,606.9 1593.6,610.6 1610.6,614.3 1627.9,617.9 1645.7,621.4 1663.8,624.8 1682.4,628.2 1701.3,631.4 1720.6,634.6 1740.6,637.7 1761.0,640.8 1781.9,643.8 1803.4,646.7 1825.2,649.5 1847.4,652.3 1870.2,655.0 1893.5,657.6 1917.4,660.2 1941.7,662.7 1966.9,665.2 1992.3,667.6 2018.5,670.0 2045.2,672.3 2072.7,674.5 2100.7,676.7 2129.3,678.8 2158.6,680.9 2188.5,682.9 2219.1,684.9 2250.3,686.8 2282.2,688.7 2314.9,690.5"/>
<polyline transform="translate(0.5,0.5)" points="218.7,1156.6 228.7,1132.3 238.6,1108.3 248.6,1084.8 258.3,1062.2 268.2,1039.3 277.9,1017.4 287.6,995.9 297.3,974.7 307.0,953.9 316.7,933.4 326.4,913.2 336.0,893.5 345.7,874.0 355.4,855.0 365.1,836.3 374.8,817.9 384.5,800.0 394.2,782.3 403.9,765.1 413.6,748.2 423.3,731.6 433.0,715.4 442.7,699.6 452.3,684.2 462.0,669.0 471.7,654.3 481.4,639.9 491.1,625.9 500.8,612.2 510.5,598.8 520.2,585.8 530.1,572.9 539.8,560.6 549.8,548.3 559.5,536.8 569.4,525.2 579.1,514.3 584.1,508.9 589.1,503.5 594.1,498.2 599.0,493.0 604.0,487.9 609.0,482.9 614.0,478.0 618.9,473.1 623.9,468.3 628.9,463.7 633.9,459.1 638.8,454.6 643.8,450.2 649.1,445.6 654.0,441.4 659.0,437.2 664.0,433.1 669.2,428.9 674.2,425.0 679.4,421.0 684.4,417.3 689.7,413.4 694.6,409.8 699.9,406.2 704.9,402.8 710.1,399.3 715.1,396.0 720.3,392.7 725.5,389.5 730.8,386.3 735.8,383.4 741.0,380.4 746.2,377.5 751.5,374.7 756.7,372.0 762.0,369.3 767.2,366.8 772.4,364.3 777.7,361.9 782.9,359.6 788.2,357.4 793.7,355.1 798.9,353.0 804.1,351.0 809.4,349.1 814.9,347.2 820.1,345.5 825.6,343.7 830.8,342.1 836.3,340.5 841.6,339.1 847.1,337.7 852.3,336.4 857.8,335.1 865.7,333.5 873.5,332.0 881.4,330.6 889.3,329.5 897.1,328.4 905.0,327.6 912.8,326.9 921.0,326.3 929.1,325.9 937.2,325.7 945.3,325.6 953.4,325.7 961.6,325.9 969.7,326.3 977.8,326.8 986.2,327.5 994.3,328.4 1002.7,329.4 1011.1,330.6 1019.4,331.9 1027.8,333.4 1036.2,335.0 1044.6,336.8 1053.2,338.8 1061.6,340.9 1070.3,343.2 1078.6,345.5 1087.3,348.1 1095.9,350.9 1104.3,353.7 1113.0,356.8 1121.3,359.9 1129.2,363.0 1137.1,366.1 1144.9,369.5 1152.8,372.9 1160.4,376.4 1168.0,380.0 1175.6,383.8 1182.9,387.5 1190.2,391.4 1197.3,395.3 1204.1,399.2 1210.9,403.3 1217.5,407.3 1223.8,411.4 1229.8,415.5 1235.3,419.4 1239.2,422.3 1243.1,425.3 1246.8,428.2 1250.2,431.1 1253.4,433.9 1256.2,436.6 1258.9,439.2 1260.9,441.5 1262.3,443.0 1263.6,444.7 1264.6,446.2 1265.4,447.4 1266.2,449.0 1266.5,449.9 1266.7,451.1 1267.2,452.6 1268.0,454.4 1268.8,456.0 1270.1,458.4 1271.4,460.6 1273.0,463.0 1274.8,465.5 1276.7,467.9 1278.8,470.5 1281.1,473.3 1283.5,475.9 1286.1,478.7 1288.7,481.4 1291.3,483.9 1294.2,486.6 1297.1,489.2 1300.2,491.9 1303.4,494.5 1306.8,497.3 1310.2,499.9 1313.9,502.7 1317.5,505.4 1321.2,508.0 1325.1,510.7 1329.1,513.3 1333.0,515.8 1337.2,518.4 1341.4,521.0 1345.8,523.6 1350.3,526.2 1354.7,528.7 1359.7,531.4 1364.7,534.0 1369.7,536.6 1374.9,539.2 1380.1,541.8 1385.6,544.4 1391.1,546.9 1396.9,549.5 1402.7,552.0 1408.4,554.5 1420.5,559.4 1432.8,564.2 1445.4,568.8 1458.5,573.4 1471.8,577.9 1485.7,582.3 1500.1,586.7 1514.8,590.9 1529.7,595.0 1545.2,599.1 1561.1,603.1 1577.1,606.9 1593.6,610.6 1610.6,614.3 1627.9,617.9 1645.7,621.4 1663.8,624.8 1682.4,628.2 1701.3,631.4 1720.6,634.6 1740.6,637.7 1761.0,640.8 1781.9,643.8 1803.4,646.7 1825.2,649.5 1847.4,652.3 1870.2,655.0 1893.5,657.6 1917.4,660.2 1941.7,662.7 1966.9,665.2 1992.3,667.6 2018.5,670.0 2045.2,672.3 2072.7,674.5 2100.7,676.7 2129.3,678.8 2158.6,680.9 2188.5,682.9 2219.1,684.9 2250.3,686.8 2282.2,688.7 2314.9,690.5"/>
</g>
<g stroke="#ff0000">
<polyline transform="translate(-0.5,-0.5)" points="492.3,1387.2 500.0,1356.1 507.9,1324.9 515.7,1294.2 523.3,1264.9 530.9,1236.1 538.5,1207.7 546.1,1179.7 553.7,1152.1 561.3,1125.0 568.9,1098.4 576.5,1072.2 583.8,1047.3 591.4,1022.0 598.8,998.0 606.1,974.5 613.4,951.4 621.0,927.9 628.4,905.6 635.7,883.9 643.0,862.5 650.6,840.9 658.0,820.4 665.3,800.4 672.6,780.9 680.0,761.7 687.3,743.1 694.6,724.8 702.2,706.4 709.6,689.1 716.9,672.2 724.2,655.8 731.8,639.2 739.2,623.7 746.8,608.0 754.1,593.3 761.7,578.6 769.0,564.8 776.6,551.0 784.0,538.1 791.6,525.1 799.2,512.6 806.7,500.6 810.4,494.9 814.3,489.0 818.0,483.5 821.9,477.8 825.6,472.6 829.5,467.1 833.2,462.0 837.1,456.8 840.8,452.0 844.7,446.9 848.7,442.0 852.6,437.1 856.3,432.7 860.2,428.1 864.1,423.6 868.0,419.2 872.0,415.0 875.9,410.8 879.8,406.7 883.8,402.8 887.7,398.9 891.6,395.2 895.5,391.6 899.5,388.0 903.4,384.6 907.3,381.3 911.3,378.1 915.2,375.0 919.1,372.0 923.0,369.1 927.0,366.3 931.2,363.4 935.1,360.8 939.3,358.1 943.2,355.7 947.4,353.3 951.3,351.1 955.5,348.8 959.5,346.8 963.7,344.8 967.6,343.0 971.8,341.2 976.0,339.5 980.2,337.9 985.4,336.0 990.6,334.3 995.9,332.7 1001.4,331.3 1006.6,330.1 1012.1,328.9 1017.3,328.0 1022.8,327.2 1028.1,326.6 1033.6,326.1 1039.1,325.8 1044.6,325.6 1050.1,325.6 1055.6,325.7 1061.1,326.0 1066.9,326.5 1072.4,327.1 1078.1,327.9 1083.6,328.8 1089.4,329.9 1094.9,331.1 1100.6,332.5 1106.4,334.1 1112.2,335.8 1117.9,337.7 1123.7,339.7 1129.5,341.8 1135.2,344.2 1141.0,346.6 1147.0,349.4 1152.8,352.1 1158.5,355.0 1164.3,358.1 1169.8,361.2 1175.6,364.5 1181.1,367.9 1186.6,371.3 1192.1,375.0 1197.6,378.8 1202.8,382.5 1208.0,386.4 1213.3,390.4 1218.3,394.4 1223.2,398.6 1227.9,402.7 1232.7,407.0 1237.1,411.2 1241.3,415.3 1244.4,418.6 1247.6,421.9 1250.5,425.2 1253.4,428.6 1255.7,431.5 1258.1,434.6 1260.2,437.5 1262.0,440.3 1263.0,442.1 1264.1,444.0 1264.9,445.5 1265.7,447.3 1266.2,448.7 1266.5,449.9 1266.7,451.5 1267.2,453.5 1267.8,455.2 1268.5,457.4 1269.6,460.0 1270.6,462.4 1272.0,465.1 1273.5,468.2 1275.1,471.0 1276.9,474.1 1278.8,477.1 1280.6,479.9 1282.7,482.9 1284.8,485.8 1287.1,488.9 1289.5,491.9 1292.1,495.1 1294.7,498.2 1297.4,501.2 1300.2,504.3 1303.1,507.3 1306.3,510.5 1309.4,513.6 1312.6,516.5 1315.7,519.4 1319.1,522.4 1322.5,525.3 1326.2,528.3 1329.6,531.1 1333.2,533.9 1336.9,536.7 1340.8,539.6 1345.3,542.7 1349.7,545.8 1354.2,548.8 1358.9,551.8 1363.6,554.7 1368.6,557.8 1373.6,560.7 1378.6,563.5 1383.8,566.4 1389.0,569.2 1394.3,571.9 1399.8,574.7 1405.3,577.4 1410.8,580.0 1416.5,582.6 1422.3,585.2 1428.1,587.7 1434.1,590.3 1440.1,592.7 1446.4,595.3 1452.7,597.7 1459.2,600.2 1465.8,602.5 1472.3,604.9 1479.1,607.2 1486.0,609.5 1492.8,611.7 1499.8,614.0 1514.2,618.3 1528.9,622.5 1544.4,626.7 1560.1,630.8 1576.6,634.7 1593.3,638.6 1610.6,642.3 1628.4,645.9 1646.8,649.5 1665.4,652.8 1684.5,656.1 1704.4,659.4 1724.8,662.5 1745.8,665.5 1767.3,668.4 1789.5,671.3 1812.3,674.1 1835.9,676.8 1860.0,679.4 1884.6,681.9 1910.0,684.4 1936.2,686.8 1963.2,689.1 1991.0,691.3 2019.3,693.5 2048.6,695.6 2078.7,697.6 2109.6,699.6 2141.3,701.5 2174.1,703.4 2207.9,705.2 2242.4,706.9 2278.1,708.6 2314.9,710.2"/>
<polyline transform="translate(0.5,-0.5)" points="492.3,1387.2 500.0,1356.1 507.9,1324.9 515.7,1294.2 523.3,1264.9 530.9,1236.1 538.5,1207.7 546.1,1179.7 553.7,1152.1 561.3,1125.0 568.9,1098.4 576.5,1072.2 583.8,1047.3 591.4,1022.0 598.8,998.0 606.1,974.5 613.4,951.4 621.0,927.9 628.4,905.6 635.7,883.9 643.0,862.5 650.6,840.9 658.0,820.4 665.3,800.4 672.6,780.9 680.0,761.7 687.3,743.1 694.6,724.8 702.2,706.4 709.6,689.1 716.9,672.2 724.2,655.8 731.8,639.2 739.2,623.7 746.8,608.0 754.1,593.3 761.7,578.6 769.0,564.8 776.6,551.0 784.0,538.1 791.6,525.1 799.2,512.6 806.7,500.6 810.4,494.9 814.3,489.0 818.0,483.5 821.9,477.8 825.6,472.6 829.5,467.1 833.2,462.0 837.1,456.8 840.8,452.0 844.7,446.9 848.7,442.0 852.6,437.1 856.3,432.7 860.2,428.1 864.1,423.6 868.0,419.2 872.0,415.0 875.9,410.8 879.8,406.7 883.8,402.8 887.7,398.9 891.6,395.2 895.5,391.6 899.5,388.0 903.4,384.6 907.3,381.3 911.3,378.1 915.2,375.0 919.1,372.0 923.0,369.1 927.0,366.3 931.2,363.4 935.1,360.8 939.3,358.1 943.2,355.7 947.4,353.3 951.3,351.1 955.5,348.8 959.5,346.8 963.7,344.8 967.6,343.0 971.8,341.2 976.0,339.5 980.2,337.9 985.4,336.0 990.6,334.3 995.9,332.7 1001.4,331.3 1006.6,330.1 1012.1,328.9 1017.3,328.0 1022.8,327.2 1028.1,326.6 1033.6,326.1 1039.1,325.8 1044.6,325.6 1050.1,325.6 1055.6,325.7 1061.1,326.0 1066.9,326.5 1072.4,327.1 1078.1,327.9 1083.6,328.8 1089.4,329.9 1094.9,331.1 1100.6,332.5 1106.4,334.1 1112.2,335.8 1117.9,337.7 1123.7,339.7 1129.5,341.8 1135.2,344.2 1141.0,346.6 1147.0,349.4 1152.8,352.1 1158.5,355.0 1164.3,358.1 1169.8,361.2 1175.6,364.5 1181.1,367.9 1186.6,371.3 1192.1,375.0 1197.6,378.8 1202.8,382.5 1208.0,386.4 1213.3,390.4 1218.3,394.4 1223.2,398.6 1227.9,402.7 1232.7,407.0 1237.1,411.2 1241.3,415.3 1244.4,418.6 1247.6,421.9 1250.5,425.2 1253.4,428.6 1255.7,431.5 1258.1,434.6 1260.2,437.5 1262.0,440.3 1263.0,442.1 1264.1,444.0 1264.9,445.5 1265.7,447.3 1266.2,448.7 1266.5,449.9 1266.7,451.5 1267.2,453.5 1267.8,455.2 1268.5,457.4 1269.6,460.0 1270.6,462.4 1272.0,465.1 1273.5,468.2 1275.1,471.0 1276.9,474.1 1278.8,477.1 1280.6,479.9 1282.7,482.9 1284.8,485.8 1287.1,488.9 1289.5,491.9 1292.1,495.1 1294.7,498.2 1297.4,501.2 1300.2,504.3 1303.1,507.3 1306.3,510.5 1309.4,513.6 1312.6,516.5 1315.7,519.4 1319.1,522.4 1322.5,525.3 1326.2,528.3 1329.6,531.1 1333.2,533.9 1336.9,536.7 1340.8,539.6 1345.3,542.7 1349.7,545.8 1354.2,548.8 1358.9,551.8 1363.6,554.7 1368.6,557.8 1373.6,560.7 1378.6,563.5 1383.8,566.4 1389.0,569.2 1394.3,571.9 1399.8,574.7 1405.3,577.4 1410.8,580.0 1416.5,582.6 1422.3,585.2 1428.1,587.7 1434.1,590.3 1440.1,592.7 1446.4,595.3 1452.7,597.7 1459.2,600.2 1465.8,602.5 1472.3,604.9 1479.1,607.2 1486.0,609.5 1492.8,611.7 1499.8,614.0 1514.2,618.3 1528.9,622.5 1544.4,626.7 1560.1,630.8 1576.6,634.7 1593.3,638.6 1610.6,642.3 1628.4,645.9 1646.8,649.5 1665.4,652.8 1684.5,656.1 1704.4,659.4 1724.8,662.5 1745.8,665.5 1767.3,668.4 1789.5,671.3 1812.3,674.1 1835.9,676.8 1860.0,679.4 1884.6,681.9 1910.0,684.4 1936.2,686.8 1963.2,689.1 1991.0,691.3 2019.3,693.5 2048.6,695.6 2078.7,697.6 2109.6,699.6 2141.3,701.5 2174.1,703.4 2207.9,705.2 2242.4,706.9 2278.1,708.6 2314.9,710.2"/>
<polyline transform="translate(-0.5,0.5)" points="492.3,1387.2 500.0,1356.1 507.9,1324.9 515.7,1294.2 523.3,1264.9 530.9,1236.1 538.5,1207.7 546.1,1179.7 553.7,1152.1 561.3,1125.0 568.9,1098.4 576.5,1072.2 583.8,1047.3 591.4,1022.0 598.8,998.0 606.1,974.5 613.4,951.4 621.0,927.9 628.4,905.6 635.7,883.9 643.0,862.5 650.6,840.9 658.0,820.4 665.3,800.4 672.6,780.9 680.0,761.7 687.3,743.1 694.6,724.8 702.2,706.4 709.6,689.1 716.9,672.2 724.2,655.8 731.8,639.2 739.2,623.7 746.8,608.0 754.1,593.3 761.7,578.6 769.0,564.8 776.6,551.0 784.0,538.1 791.6,525.1 799.2,512.6 806.7,500.6 810.4,494.9 814.3,489.0 818.0,483.5 821.9,477.8 825.6,472.6 829.5,467.1 833.2,462.0 837.1,456.8 840.8,452.0 844.7,446.9 848.7,442.0 852.6,437.1 856.3,432.7 860.2,428.1 864.1,423.6 868.0,419.2 872.0,415.0 875.9,410.8 879.8,406.7 883.8,402.8 887.7,398.9 891.6,395.2 895.5,391.6 899.5,388.0 903.4,384.6 907.3,381.3 911.3,378.1 915.2,375.0 919.1,372.0 923.0,369.1 927.0,366.3 931.2,363.4 935.1,360.8 939.3,358.1 943.2,355.7 947.4,353.3 951.3,351.1 955.5,348.8 959.5,346.8 963.7,344.8 967.6,343.0 971.8,341.2 976.0,339.5 980.2,337.9 985.4,336.0 990.6,334.3 995.9,332.7 1001.4,331.3 1006.6,330.1 1012.1,328.9 1017.3,328.0 1022.8,327.2 1028.1,326.6 1033.6,326.1 1039.1,325.8 1044.6,325.6 1050.1,325.6 1055.6,325.7 1061.1,326.0 1066.9,326.5 1072.4,327.1 1078.1,327.9 1083.6,328.8 1089.4,329.9 1094.9,331.1 1100.6,332.5 1106.4,334.1 1112.2,335.8 1117.9,337.7 1123.7,339.7 1129.5,341.8 1135.2,344.2 1141.0,346.6 1147.0,349.4 1152.8,352.1 1158.5,355.0 1164.3,358.1 1169.8,361.2 1175.6,364.5 1181.1,367.9 1186.6,371.3 1192.1,375.0 1197.6,378.8 1202.8,382.5 1208.0,386.4 1213.3,390.4 1218.3,394.4 1223.2,398.6 1227.9,402.7 1232.7,407.0 1237.1,411.2 1241.3,415.3 1244.4,418.6 1247.6,421.9 1250.5,425.2 1253.4,428.6 1255.7,431.5 1258.1,434.6 1260.2,437.5 1262.0,440.3 1263.0,442.1 1264.1,444.0 1264.9,445.5 1265.7,447.3 1266.2,448.7 1266.5,449.9 1266.7,451.5 1267.2,453.5 1267.8,455.2 1268.5,457.4 1269.6,460.0 1270.6,462.4 1272.0,465.1 1273.5,468.2 1275.1,471.0 1276.9,474.1 1278.8,477.1 1280.6,479.9 1282.7,482.9 1284.8,485.8 1287.1,488.9 1289.5,491.9 1292.1,495.1 1294.7,498.2 1297.4,501.2 1300.2,504.3 1303.1,507.3 1306.3,510.5 1309.4,513.6 1312.6,516.5 1315.7,519.4 1319.1,522.4 1322.5,525.3 1326.2,528.3 1329.6,531.1 1333.2,533.9 1336.9,536.7 1340.8,539.6 1345.3,542.7 1349.7,545.8 1354.2,548.8 1358.9,551.8 1363.6,554.7 1368.6,557.8 1373.6,560.7 1378.6,563.5 1383.8,566.4 1389.0,569.2 1394.3,571.9 1399.8,574.7 1405.3,577.4 1410.8,580.0 1416.5,582.6 1422.3,585.2 1428.1,587.7 1434.1,590.3 1440.1,592.7 1446.4,595.3 1452.7,597.7 1459.2,600.2 1465.8,602.5 1472.3,604.9 1479.1,607.2 1486.0,609.5 1492.8,611.7 1499.8,614.0 1514.2,618.3 1528.9,622.5 1544.4,626.7 1560.1,630.8 1576.6,634.7 1593.3,638.6 1610.6,642.3 1628.4,645.9 1646.8,649.5 1665.4,652.8 1684.5,656.1 1704.4,659.4 1724.8,662.5 1745.8,665.5 1767.3,668.4 1789.5,671.3 1812.3,674.1 1835.9,676.8 1860.0,679.4 1884.6,681.9 1910.0,684.4 1936.2,686.8 1963.2,689.1 1991.0,691.3 2019.3,693.5 2048.6,695.6 2078.7,697.6 2109.6,699.6 2141.3,701.5 2174.1,703.4 2207.9,705.2 2242.4,706.9 2278.1,708.6 2314.9,710.2"/>
<polyline transform="translate(0.5,0.5)" points="492.3,1387.2 500.0,1356.1 507.9,1324.9 515.7,1294.2 523.3,1264.9 530.9,1236.1 538.5,1207.7 546.1,1179.7 553.7,1152.1 561.3,1125.0 568.9,1098.4 576.5,1072.2 583.8,1047.3 591.4,1022.0 598.8,998.0 606.1,974.5 613.4,951.4 621.0,927.9 628.4,905.6 635.7,883.9 643.0,862.5 650.6,840.9 658.0,820.4 665.3,800.4 672.6,780.9 680.0,761.7 687.3,743.1 694.6,724.8 702.2,706.4 709.6,689.1 716.9,672.2 724.2,655.8 731.8,639.2 739.2,623.7 746.8,608.0 754.1,593.3 761.7,578.6 769.0,564.8 776.6,551.0 784.0,538.1 791.6,525.1 799.2,512.6 806.7,500.6 810.4,494.9 814.3,489.0 818.0,483.5 821.9,477.8 825.6,472.6 829.5,467.1 833.2,462.0 837.1,456.8 840.8,452.0 844.7,446.9 848.7,442.0 852.6,437.1 856.3,432.7 860.2,428.1 864.1,423.6 868.0,419.2 872.0,415.0 875.9,410.8 879.8,406.7 883.8,402.8 887.7,398.9 891.6,395.2 895.5,391.6 899.5,388.0 903.4,384.6 907.3,381.3 911.3,378.1 915.2,375.0 919.1,372.0 923.0,369.1 927.0,366.3 931.2,363.4 935.1,360.8 939.3,358.1 943.2,355.7 947.4,353.3 951.3,351.1 955.5,348.8 959.5,346.8 963.7,344.8 967.6,343.0 971.8,341.2 976.0,339.5 980.2,337.9 985.4,336.0 990.6,334.3 995.9,332.7 1001.4,331.3 1006.6,330.1 1012.1,328.9 1017.3,328.0 1022.8,327.2 1028.1,326.6 1033.6,326.1 1039.1,325.8 1044.6,325.6 1050.1,325.6 1055.6,325.7 1061.1,326.0 1066.9,326.5 1072.4,327.1 1078.1,327.9 1083.6,328.8 1089.4,329.9 1094.9,331.1 1100.6,332.5 1106.4,334.1 1112.2,335.8 1117.9,337.7 1123.7,339.7 1129.5,341.8 1135.2,344.2 1141.0,346.6 1147.0,349.4 1152.8,352.1 1158.5,355.0 1164.3,358.1 1169.8,361.2 1175.6,364.5 1181.1,367.9 1186.6,371.3 1192.1,375.0 1197.6,378.8 1202.8,382.5 1208.0,386.4 1213.3,390.4 1218.3,394.4 1223.2,398.6 1227.9,402.7 1232.7,407.0 1237.1,411.2 1241.3,415.3 1244.4,418.6 1247.6,421.9 1250.5,425.2 1253.4,428.6 1255.7,431.5 1258.1,434.6 1260.2,437.5 1262.0,440.3 1263.0,442.1 1264.1,444.0 1264.9,445.5 1265.7,447.3 1266.2,448.7 1266.5,449.9 1266.7,451.5 1267.2,453.5 1267.8,455.2 1268.5,457.4 1269.6,460.0 1270.6,462.4 1272.0,465.1 1273.5,468.2 1275.1,471.0 1276.9,474.1 1278.8,477.1 1280.6,479.9 1282.7,482.9 1284.8,485.8 1287.1,488.9 1289.5,491.9 1292.1,495.1 1294.7,498.2 1297.4,501.2 1300.2,504.3 1303.1,507.3 1306.3,510.5 1309.4,513.6 1312.6,516.5 1315.7,519.4 1319.1,522.4 1322.5,525.3 1326.2,528.3 1329.6,531.1 1333.2,533.9 1336.9,536.7 1340.8,539.6 1345.3,542.7 1349.7,545.8 1354.2,548.8 1358.9,551.8 1363.6,554.7 1368.6,557.8 1373.6,560.7 1378.6,563.5 1383.8,566.4 1389.0,569.2 1394.3,571.9 1399.8,574.7 1405.3,577.4 1410.8,580.0 1416.5,582.6 1422.3,585.2 1428.1,587.7 1434.1,590.3 1440.1,592.7 1446.4,595.3 1452.7,597.7 1459.2,600.2 1465.8,602.5 1472.3,604.9 1479.1,607.2 1486.0,609.5 1492.8,611.7 1499.8,614.0 1514.2,618.3 1528.9,622.5 1544.4,626.7 1560.1,630.8 1576.6,634.7 1593.3,638.6 1610.6,642.3 1628.4,645.9 1646.8,649.5 1665.4,652.8 1684.5,656.1 1704.4,659.4 1724.8,662.5 1745.8,665.5 1767.3,668.4 1789.5,671.3 1812.3,674.1 1835.9,676.8 1860.0,679.4 1884.6,681.9 1910.0,684.4 1936.2,686.8 1963.2,689.1 1991.0,691.3 2019.3,693.5 2048.6,695.6 2078.7,697.6 2109.6,699.6 2141.3,701.5 2174.1,703.4 2207.9,705.2 2242.4,706.9 2278.1,708.6 2314.9,710.2"/>
</g>
<g stroke="#0000ff">
<polyline transform="translate(-0.5,-0.5)" points="691.5,1387.2 697.5,1354.6 703.3,1323.9 709.3,1292.2 715.1,1262.3 720.8,1232.9 726.6,1204.0 732.4,1175.4 738.1,1147.4 743.9,1119.8 749.6,1092.6 755.4,1066.0 760.9,1041.0 766.7,1015.3 772.2,991.2 777.9,966.4 783.4,943.2 789.2,919.4 794.7,897.1 800.5,874.2 806.0,852.9 811.7,831.0 817.2,810.6 822.7,790.6 828.2,771.1 833.7,752.0 839.5,732.5 845.0,714.3 850.8,695.8 856.3,678.6 862.0,661.0 867.5,644.7 873.3,628.1 878.8,612.7 884.5,597.1 890.3,581.9 896.1,567.2 901.6,553.7 907.3,539.9 913.1,526.6 918.9,513.8 924.6,501.5 930.4,489.6 936.1,478.2 941.9,467.2 947.7,456.7 953.4,446.6 959.2,437.0 962.1,432.3 965.2,427.4 971.0,418.6 973.9,414.4 977.0,409.9 979.9,406.0 982.8,402.1 985.7,398.3 988.8,394.3 991.7,390.7 994.8,387.0 997.7,383.6 1000.8,380.1 1003.7,377.0 1006.9,373.6 1009.8,370.7 1012.9,367.6 1015.8,364.9 1018.9,362.1 1022.1,359.3 1025.2,356.7 1028.1,354.4 1031.2,352.0 1034.4,349.7 1037.5,347.5 1040.4,345.6 1043.5,343.6 1046.7,341.7 1049.8,340.0 1053.0,338.3 1056.1,336.8 1059.3,335.3 1062.4,334.0 1066.1,332.5 1069.7,331.2 1073.4,330.1 1077.1,329.1 1080.7,328.2 1084.4,327.4 1088.1,326.8 1092.0,326.3 1095.7,325.9 1099.6,325.7 1103.3,325.6 1107.2,325.6 1110.9,325.8 1114.8,326.1 1118.5,326.5 1122.4,327.1 1126.1,327.8 1130.0,328.6 1133.9,329.6 1137.8,330.7 1141.8,332.0 1145.7,333.4 1149.6,334.9 1153.6,336.5 1157.5,338.3 1161.4,340.2 1165.3,342.2 1169.3,344.3 1173.2,346.6 1177.4,349.1 1181.3,351.7 1185.2,354.3 1189.4,357.3 1193.6,360.4 1197.8,363.6 1201.8,366.8 1205.9,370.3 1209.9,373.8 1213.8,377.4 1217.7,381.1 1221.7,385.0 1225.6,389.0 1229.3,392.9 1232.9,397.0 1236.3,400.9 1239.7,405.0 1243.1,409.2 1246.3,413.3 1248.9,416.9 1251.3,420.2 1253.6,423.7 1255.7,426.9 1257.8,430.4 1259.6,433.5 1261.2,436.4 1262.8,439.6 1264.4,443.1 1265.1,445.1 1265.7,446.6 1266.2,448.4 1266.5,449.9 1266.7,451.8 1267.2,454.4 1268.3,458.3 1269.1,460.9 1270.1,464.0 1271.2,466.8 1272.2,469.4 1273.5,472.5 1275.1,476.0 1276.7,479.3 1278.2,482.4 1280.1,485.8 1281.9,489.1 1283.7,492.2 1285.8,495.7 1287.9,498.9 1290.3,502.5 1292.6,505.9 1295.3,509.5 1297.6,512.6 1300.2,516.0 1302.9,519.2 1305.7,522.6 1308.6,525.9 1311.5,529.1 1314.4,532.2 1317.5,535.4 1320.7,538.6 1323.8,541.6 1327.0,544.6 1330.4,547.6 1334.3,551.1 1338.2,554.4 1342.1,557.6 1346.3,560.9 1350.5,564.1 1355.0,567.4 1359.4,570.6 1363.9,573.6 1368.6,576.8 1373.3,579.8 1378.0,582.7 1383.0,585.7 1388.0,588.6 1393.0,591.4 1398.2,594.2 1403.4,597.0 1408.7,599.7 1414.2,602.4 1419.7,605.0 1425.4,607.7 1431.2,610.3 1437.0,612.8 1443.0,615.3 1449.0,617.8 1455.0,620.1 1461.3,622.5 1467.6,624.9 1474.2,627.2 1480.7,629.5 1487.5,631.8 1494.3,634.0 1501.1,636.1 1508.5,638.3 1515.8,640.5 1523.4,642.7 1531.0,644.8 1538.9,646.9 1546.7,648.9 1554.8,650.9 1563.0,652.9 1571.3,654.9 1579.7,656.7 1588.4,658.6 1597.0,660.5 1614.8,664.1 1633.2,667.5 1652.3,670.9 1671.9,674.1 1692.1,677.2 1713.1,680.2 1734.8,683.2 1757.1,685.9 1780.4,688.7 1804.2,691.3 1828.8,693.8 1854.2,696.2 1880.4,698.6 1907.7,700.8 1935.7,703.0 1964.8,705.1 1994.6,707.1 2025.5,709.1 2057.5,710.9 2090.8,712.7 2125.1,714.5 2160.4,716.2 2197.1,717.8 2235.1,719.3 2274.4,720.8 2314.9,722.3"/>
<polyline transform="translate(0.5,-0.5)" points="691.5,1387.2 697.5,1354.6 703.3,1323.9 709.3,1292.2 715.1,1262.3 720.8,1232.9 726.6,1204.0 732.4,1175.4 738.1,1147.4 743.9,1119.8 749.6,1092.6 755.4,1066.0 760.9,1041.0 766.7,1015.3 772.2,991.2 777.9,966.4 783.4,943.2 789.2,919.4 794.7,897.1 800.5,874.2 806.0,852.9 811.7,831.0 817.2,810.6 822.7,790.6 828.2,771.1 833.7,752.0 839.5,732.5 845.0,714.3 850.8,695.8 856.3,678.6 862.0,661.0 867.5,644.7 873.3,628.1 878.8,612.7 884.5,597.1 890.3,581.9 896.1,567.2 901.6,553.7 907.3,539.9 913.1,526.6 918.9,513.8 924.6,501.5 930.4,489.6 936.1,478.2 941.9,467.2 947.7,456.7 953.4,446.6 959.2,437.0 962.1,432.3 965.2,427.4 971.0,418.6 973.9,414.4 977.0,409.9 979.9,406.0 982.8,402.1 985.7,398.3 988.8,394.3 991.7,390.7 994.8,387.0 997.7,383.6 1000.8,380.1 1003.7,377.0 1006.9,373.6 1009.8,370.7 1012.9,367.6 1015.8,364.9 1018.9,362.1 1022.1,359.3 1025.2,356.7 1028.1,354.4 1031.2,352.0 1034.4,349.7 1037.5,347.5 1040.4,345.6 1043.5,343.6 1046.7,341.7 1049.8,340.0 1053.0,338.3 1056.1,336.8 1059.3,335.3 1062.4,334.0 1066.1,332.5 1069.7,331.2 1073.4,330.1 1077.1,329.1 1080.7,328.2 1084.4,327.4 1088.1,326.8 1092.0,326.3 1095.7,325.9 1099.6,325.7 1103.3,325.6 1107.2,325.6 1110.9,325.8 1114.8,326.1 1118.5,326.5 1122.4,327.1 1126.1,327.8 1130.0,328.6 1133.9,329.6 1137.8,330.7 1141.8,332.0 1145.7,333.4 1149.6,334.9 1153.6,336.5 1157.5,338.3 1161.4,340.2 1165.3,342.2 1169.3,344.3 1173.2,346.6 1177.4,349.1 1181.3,351.7 1185.2,354.3 1189.4,357.3 1193.6,360.4 1197.8,363.6 1201.8,366.8 1205.9,370.3 1209.9,373.8 1213.8,377.4 1217.7,381.1 1221.7,385.0 1225.6,389.0 1229.3,392.9 1232.9,397.0 1236.3,400.9 1239.7,405.0 1243.1,409.2 1246.3,413.3 1248.9,416.9 1251.3,420.2 1253.6,423.7 1255.7,426.9 1257.8,430.4 1259.6,433.5 1261.2,436.4 1262.8,439.6 1264.4,443.1 1265.1,445.1 1265.7,446.6 1266.2,448.4 1266.5,449.9 1266.7,451.8 1267.2,454.4 1268.3,458.3 1269.1,460.9 1270.1,464.0 1271.2,466.8 1272.2,469.4 1273.5,472.5 1275.1,476.0 1276.7,479.3 1278.2,482.4 1280.1,485.8 1281.9,489.1 1283.7,492.2 1285.8,495.7 1287.9,498.9 1290.3,502.5 1292.6,505.9 1295.3,509.5 1297.6,512.6 1300.2,516.0 1302.9,519.2 1305.7,522.6 1308.6,525.9 1311.5,529.1 1314.4,532.2 1317.5,535.4 1320.7,538.6 1323.8,541.6 1327.0,544.6 1330.4,547.6 1334.3,551.1 1338.2,554.4 1342.1,557.6 1346.3,560.9 1350.5,564.1 1355.0,567.4 1359.4,570.6 1363.9,573.6 1368.6,576.8 1373.3,579.8 1378.0,582.7 1383.0,585.7 1388.0,588.6 1393.0,591.4 1398.2,594.2 1403.4,597.0 1408.7,599.7 1414.2,602.4 1419.7,605.0 1425.4,607.7 1431.2,610.3 1437.0,612.8 1443.0,615.3 1449.0,617.8 1455.0,620.1 1461.3,622.5 1467.6,624.9 1474.2,627.2 1480.7,629.5 1487.5,631.8 1494.3,634.0 1501.1,636.1 1508.5,638.3 1515.8,640.5 1523.4,642.7 1531.0,644.8 1538.9,646.9 1546.7,648.9 1554.8,650.9 1563.0,652.9 1571.3,654.9 1579.7,656.7 1588.4,658.6 1597.0,660.5 1614.8,664.1 1633.2,667.5 1652.3,670.9 1671.9,674.1 1692.1,677.2 1713.1,680.2 1734.8,683.2 1757.1,685.9 1780.4,688.7 1804.2,691.3 1828.8,693.8 1854.2,696.2 1880.4,698.6 1907.7,700.8 1935.7,703.0 1964.8,705.1 1994.6,707.1 2025.5,709.1 2057.5,710.9 2090.8,712.7 2125.1,714.5 2160.4,716.2 2197.1,717.8 2235.1,719.3 2274.4,720.8 2314.9,722.3"/>
<polyline transform="translate(-0.5,0.5)" points="691.5,1387.2 697.5,1354.6 703.3,1323.9 709.3,1292.2 715.1,1262.3 720.8,1232.9 726.6,1204.0 732.4,1175.4 738.1,1147.4 743.9,1119.8 749.6,1092.6 755.4,1066.0 760.9,1041.0 766.7,1015.3 772.2,991.2 777.9,966.4 783.4,943.2 789.2,919.4 794.7,897.1 800.5,874.2 806.0,852.9 811.7,831.0 817.2,810.6 822.7,790.6 828.2,771.1 833.7,752.0 839.5,732.5 845.0,714.3 850.8,695.8 856.3,678.6 862.0,661.0 867.5,644.7 873.3,628.1 878.8,612.7 884.5,597.1 890.3,581.9 896.1,567.2 901.6,553.7 907.3,539.9 913.1,526.6 918.9,513.8 924.6,501.5 930.4,489.6 936.1,478.2 941.9,467.2 947.7,456.7 953.4,446.6 959.2,437.0 962.1,432.3 965.2,427.4 971.0,418.6 973.9,414.4 977.0,409.9 979.9,406.0 982.8,402.1 985.7,398.3 988.8,394.3 991.7,390.7 994.8,387.0 997.7,383.6 1000.8,380.1 1003.7,377.0 1006.9,373.6 1009.8,370.7 1012.9,367.6 1015.8,364.9 1018.9,362.1 1022.1,359.3 1025.2,356.7 1028.1,354.4 1031.2,352.0 1034.4,349.7 1037.5,347.5 1040.4,345.6 1043.5,343.6 1046.7,341.7 1049.8,340.0 1053.0,338.3 1056.1,336.8 1059.3,335.3 1062.4,334.0 1066.1,332.5 1069.7,331.2 1073.4,330.1 1077.1,329.1 1080.7,328.2 1084.4,327.4 1088.1,326.8 1092.0,326.3 1095.7,325.9 1099.6,325.7 1103.3,325.6 1107.2,325.6 1110.9,325.8 1114.8,326.1 1118.5,326.5 1122.4,327.1 1126.1,327.8 1130.0,328.6 1133.9,329.6 1137.8,330.7 1141.8,332.0 1145.7,333.4 1149.6,334.9 1153.6,336.5 1157.5,338.3 1161.4,340.2 1165.3,342.2 1169.3,344.3 1173.2,346.6 1177.4,349.1 1181.3,351.7 1185.2,354.3 1189.4,357.3 1193.6,360.4 1197.8,363.6 1201.8,366.8 1205.9,370.3 1209.9,373.8 1213.8,377.4 1217.7,381.1 1221.7,385.0 1225.6,389.0 1229.3,392.9 1232.9,397.0 1236.3,400.9 1239.7,405.0 1243.1,409.2 1246.3,413.3 1248.9,416.9 1251.3,420.2 1253.6,423.7 1255.7,426.9 1257.8,430.4 1259.6,433.5 1261.2,436.4 1262.8,439.6 1264.4,443.1 1265.1,445.1 1265.7,446.6 1266.2,448.4 1266.5,449.9 1266.7,451.8 1267.2,454.4 1268.3,458.3 1269.1,460.9 1270.1,464.0 1271.2,466.8 1272.2,469.4 1273.5,472.5 1275.1,476.0 1276.7,479.3 1278.2,482.4 1280.1,485.8 1281.9,489.1 1283.7,492.2 1285.8,495.7 1287.9,498.9 1290.3,502.5 1292.6,505.9 1295.3,509.5 1297.6,512.6 1300.2,516.0 1302.9,519.2 1305.7,522.6 1308.6,525.9 1311.5,529.1 1314.4,532.2 1317.5,535.4 1320.7,538.6 1323.8,541.6 1327.0,544.6 1330.4,547.6 1334.3,551.1 1338.2,554.4 1342.1,557.6 1346.3,560.9 1350.5,564.1 1355.0,567.4 1359.4,570.6 1363.9,573.6 1368.6,576.8 1373.3,579.8 1378.0,582.7 1383.0,585.7 1388.0,588.6 1393.0,591.4 1398.2,594.2 1403.4,597.0 1408.7,599.7 1414.2,602.4 1419.7,605.0 1425.4,607.7 1431.2,610.3 1437.0,612.8 1443.0,615.3 1449.0,617.8 1455.0,620.1 1461.3,622.5 1467.6,624.9 1474.2,627.2 1480.7,629.5 1487.5,631.8 1494.3,634.0 1501.1,636.1 1508.5,638.3 1515.8,640.5 1523.4,642.7 1531.0,644.8 1538.9,646.9 1546.7,648.9 1554.8,650.9 1563.0,652.9 1571.3,654.9 1579.7,656.7 1588.4,658.6 1597.0,660.5 1614.8,664.1 1633.2,667.5 1652.3,670.9 1671.9,674.1 1692.1,677.2 1713.1,680.2 1734.8,683.2 1757.1,685.9 1780.4,688.7 1804.2,691.3 1828.8,693.8 1854.2,696.2 1880.4,698.6 1907.7,700.8 1935.7,703.0 1964.8,705.1 1994.6,707.1 2025.5,709.1 2057.5,710.9 2090.8,712.7 2125.1,714.5 2160.4,716.2 2197.1,717.8 2235.1,719.3 2274.4,720.8 2314.9,722.3"/>
<polyline transform="translate(0.5,0.5)" points="691.5,1387.2 697.5,1354.6 703.3,1323.9 709.3,1292.2 715.1,1262.3 720.8,1232.9 726.6,1204.0 732.4,1175.4 738.1,1147.4 743.9,1119.8 749.6,1092.6 755.4,1066.0 760.9,1041.0 766.7,1015.3 772.2,991.2 777.9,966.4 783.4,943.2 789.2,919.4 794.7,897.1 800.5,874.2 806.0,852.9 811.7,831.0 817.2,810.6 822.7,790.6 828.2,771.1 833.7,752.0 839.5,732.5 845.0,714.3 850.8,695.8 856.3,678.6 862.0,661.0 867.5,644.7 873.3,628.1 878.8,612.7 884.5,597.1 890.3,581.9 896.1,567.2 901.6,553.7 907.3,539.9 913.1,526.6 918.9,513.8 924.6,501.5 930.4,489.6 936.1,478.2 941.9,467.2 947.7,456.7 953.4,446.6 959.2,437.0 962.1,432.3 965.2,427.4 971.0,418.6 973.9,414.4 977.0,409.9 979.9,406.0 982.8,402.1 985.7,398.3 988.8,394.3 991.7,390.7 994.8,387.0 997.7,383.6 1000.8,380.1 1003.7,377.0 1006.9,373.6 1009.8,370.7 1012.9,367.6 1015.8,364.9 1018.9,362.1 1022.1,359.3 1025.2,356.7 1028.1,354.4 1031.2,352.0 1034.4,349.7 1037.5,347.5 1040.4,345.6 1043.5,343.6 1046.7,341.7 1049.8,340.0 1053.0,338.3 1056.1,336.8 1059.3,335.3 1062.4,334.0 1066.1,332.5 1069.7,331.2 1073.4,330.1 1077.1,329.1 1080.7,328.2 1084.4,327.4 1088.1,326.8 1092.0,326.3 1095.7,325.9 1099.6,325.7 1103.3,325.6 1107.2,325.6 1110.9,325.8 1114.8,326.1 1118.5,326.5 1122.4,327.1 1126.1,327.8 1130.0,328.6 1133.9,329.6 1137.8,330.7 1141.8,332.0 1145.7,333.4 1149.6,334.9 1153.6,336.5 1157.5,338.3 1161.4,340.2 1165.3,342.2 1169.3,344.3 1173.2,346.6 1177.4,349.1 1181.3,351.7 1185.2,354.3 1189.4,357.3 1193.6,360.4 1197.8,363.6 1201.8,366.8 1205.9,370.3 1209.9,373.8 1213.8,377.4 1217.7,381.1 1221.7,385.0 1225.6,389.0 1229.3,392.9 1232.9,397.0 1236.3,400.9 1239.7,405.0 1243.1,409.2 1246.3,413.3 1248.9,416.9 1251.3,420.2 1253.6,423.7 1255.7,426.9 1257.8,430.4 1259.6,433.5 1261.2,436.4 1262.8,439.6 1264.4,443.1 1265.1,445.1 1265.7,446.6 1266.2,448.4 1266.5,449.9 1266.7,451.8 1267.2,454.4 1268.3,458.3 1269.1,460.9 1270.1,464.0 1271.2,466.8 1272.2,469.4 1273.5,472.5 1275.1,476.0 1276.7,479.3 1278.2,482.4 1280.1,485.8 1281.9,489.1 1283.7,492.2 1285.8,495.7 1287.9,498.9 1290.3,502.5 1292.6,505.9 1295.3,509.5 1297.6,512.6 1300.2,516.0 1302.9,519.2 1305.7,522.6 1308.6,525.9 1311.5,529.1 1314.4,532.2 1317.5,535.4 1320.7,538.6 1323.8,541.6 1327.0,544.6 1330.4,547.6 1334.3,551.1 1338.2,554.4 1342.1,557.6 1346.3,560.9 1350.5,564.1 1355.0,567.4 1359.4,570.6 1363.9,573.6 1368.6,576.8 1373.3,579.8 1378.0,582.7 1383.0,585.7 1388.0,588.6 1393.0,591.4 1398.2,594.2 1403.4,597.0 1408.7,599.7 1414.2,602.4 1419.7,605.0 1425.4,607.7 1431.2,610.3 1437.0,612.8 1443.0,615.3 1449.0,617.8 1455.0,620.1 1461.3,622.5 1467.6,624.9 1474.2,627.2 1480.7,629.5 1487.5,631.8 1494.3,634.0 1501.1,636.1 1508.5,638.3 1515.8,640.5 1523.4,642.7 1531.0,644.8 1538.9,646.9 1546.7,648.9 1554.8,650.9 1563.0,652.9 1571.3,654.9 1579.7,656.7 1588.4,658.6 1597.0,660.5 1614.8,664.1 1633.2,667.5 1652.3,670.9 1671.9,674.1 1692.1,677.2 1713.1,680.2 1734.8,683.2 1757.1,685.9 1780.4,688.7 1804.2,691.3 1828.8,693.8 1854.2,696.2 1880.4,698.6 1907.7,700.8 1935.7,703.0 1964.8,705.1 1994.6,707.1 2025.5,709.1 2057.5,710.9 2090.8,712.7 2125.1,714.5 2160.4,716.2 2197.1,717.8 2235.1,719.3 2274.4,720.8 2314.9,722.3"/>
</g>
</g>
<g font-family="'Liberation Sans', Arial, Helvetica, sans-serif" font-weight="bold" font-size="39.5" fill="#000" stroke="#000" stroke-width="0.5">
<text transform="translate(168.24,1434.50) scale(1,1.025)"><tspan y="4.26" stroke-width="0.41">−</tspan><tspan x="22.90" y="0">0.5</tspan></text>
<text transform="translate(377.79,1434.50) scale(1,1.025)"><tspan y="4.26" stroke-width="0.41">−</tspan><tspan x="22.90" y="0">0.4</tspan></text>
<text transform="translate(587.34,1434.50) scale(1,1.025)"><tspan y="4.26" stroke-width="0.41">−</tspan><tspan x="22.90" y="0">0.3</tspan></text>
<text transform="translate(796.89,1434.50) scale(1,1.025)"><tspan y="4.26" stroke-width="0.41">−</tspan><tspan x="22.90" y="0">0.2</tspan></text>
<text transform="translate(1006.44,1434.50) scale(1,1.025)"><tspan y="4.26" stroke-width="0.41">−</tspan><tspan x="22.90" y="0">0.1</tspan></text>
<text transform="translate(1255.57,1434.50) scale(1,1.025)">0</text>
<text transform="translate(1448.44,1434.50) scale(1,1.025)">0.1</text>
<text transform="translate(1657.99,1434.50) scale(1,1.025)">0.2</text>
<text transform="translate(1867.54,1434.50) scale(1,1.025)">0.3</text>
<text transform="translate(2077.09,1434.50) scale(1,1.025)">0.4</text>
<text transform="translate(2286.64,1434.50) scale(1,1.025)">0.5</text>
<text transform="translate(185.43,152.55) scale(1,1.025)">2</text>
<text transform="translate(152.49,308.55) scale(1,1.025)">1.5</text>
<text transform="translate(185.43,464.55) scale(1,1.025)">1</text>
<text transform="translate(152.49,620.55) scale(1,1.025)">0.5</text>
<text transform="translate(185.43,776.55) scale(1,1.025)">0</text>
<text transform="translate(129.59,932.55) scale(1,1.025)"><tspan y="4.26" stroke-width="0.41">−</tspan><tspan x="22.90" y="0">0.5</tspan></text>
<text transform="translate(162.53,1088.55) scale(1,1.025)"><tspan y="4.26" stroke-width="0.41">−</tspan><tspan x="22.90" y="0">1</tspan></text>
<text transform="translate(129.59,1244.55) scale(1,1.025)"><tspan y="4.26" stroke-width="0.41">−</tspan><tspan x="22.90" y="0">1.5</tspan></text>
<text transform="translate(162.53,1400.55) scale(1,1.025)"><tspan y="4.26" stroke-width="0.41">−</tspan><tspan x="22.90" y="0">2</tspan></text>
</g>
<g font-family="'Liberation Sans', Arial, Helvetica, sans-serif" font-size="55.3" fill="#000" stroke="#000" stroke-width="0.35">
<text y="76.75"><tspan x="565.94" textLength="604.36" lengthAdjust="spacingAndGlyphs">The general solution of x</tspan><tspan x="1169.84" y="104.85" font-size="44.2" textLength="25.62" lengthAdjust="spacingAndGlyphs">2</tspan><tspan x="1195.85" y="76.75" textLength="199.21" lengthAdjust="spacingAndGlyphs">(t) when</tspan><tspan> </tspan><tspan x="1410.25" y="77.37" font-family="'Liberation Serif', 'DejaVu Serif', serif" font-size="60.24" stroke="none" textLength="36.52" lengthAdjust="spacingAndGlyphs">α</tspan><tspan x="1446.74" y="77.06" font-size="40.00" stroke-width="0.81" textLength="31.55" lengthAdjust="spacingAndGlyphs">=</tspan><tspan x="1477.97" y="76.75" textLength="249.53" lengthAdjust="spacingAndGlyphs">0.75, for n</tspan><tspan x="1728.64" y="77.06" font-size="40.00" stroke-width="0.81" textLength="31.55" lengthAdjust="spacingAndGlyphs">=</tspan><tspan x="1760.37" y="76.75" textLength="215.69" lengthAdjust="spacingAndGlyphs">1,2,3,4,5</tspan></text>
<text x="1259.20" y="1494.5" textLength="14.99" lengthAdjust="spacingAndGlyphs">t</text>
<text transform="translate(74.0,813.2) rotate(-90)"><tspan x="-0.45" y="0" textLength="26.10" lengthAdjust="spacingAndGlyphs">x</tspan><tspan x="25.71" y="28.1" font-size="44.2" textLength="25.99" lengthAdjust="spacingAndGlyphs">2</tspan><tspan x="51.95" y="0" textLength="50.50" lengthAdjust="spacingAndGlyphs">(t)</tspan></text>
</g>
<g shape-rendering="crispEdges"><rect x="1984" y="158" width="311" height="261" fill="#fff" stroke="#000" stroke-width="2"/>
<rect x="2007" y="184" width="118" height="9" fill="#00ff00"/>
<rect x="2007" y="234" width="118" height="9" fill="#00ffff"/>
<rect x="2007" y="284" width="118" height="9" fill="#008000"/>
<rect x="2007" y="334" width="118" height="8" fill="#ff0000"/>
<rect x="2007" y="383" width="118" height="9" fill="#0000ff"/>
</g>
<g font-family="'Liberation Sans', Arial, Helvetica, sans-serif" font-weight="bold" font-size="39.5" fill="#000" stroke="#000" stroke-width="0.5">
<text transform="translate(2137.48,202.65) scale(1,1.05)"><tspan x="0" textLength="98.77" lengthAdjust="spacingAndGlyphs">For n</tspan><tspan x="99.63" y="2.07" font-size="32.07" stroke-width="1.36" textLength="20.66" lengthAdjust="spacingAndGlyphs">=</tspan><tspan x="121.75" y="0">1</tspan></text>
<text transform="translate(2137.48,252.68) scale(1,1.05)"><tspan x="0" textLength="98.77" lengthAdjust="spacingAndGlyphs">For n</tspan><tspan x="99.63" y="2.07" font-size="32.07" stroke-width="1.36" textLength="20.66" lengthAdjust="spacingAndGlyphs">=</tspan><tspan x="121.75" y="0">2</tspan></text>
<text transform="translate(2137.48,302.71) scale(1,1.05)"><tspan x="0" textLength="98.77" lengthAdjust="spacingAndGlyphs">For n</tspan><tspan x="99.63" y="2.07" font-size="32.07" stroke-width="1.36" textLength="20.66" lengthAdjust="spacingAndGlyphs">=</tspan><tspan x="121.75" y="0">3</tspan></text>
<text transform="translate(2137.48,352.74) scale(1,1.05)"><tspan x="0" textLength="98.77" lengthAdjust="spacingAndGlyphs">For n</tspan><tspan x="99.63" y="2.07" font-size="32.07" stroke-width="1.36" textLength="20.66" lengthAdjust="spacingAndGlyphs">=</tspan><tspan x="121.75" y="0">4</tspan></text>
<text transform="translate(2137.48,402.77) scale(1,1.05)"><tspan x="0" textLength="98.77" lengthAdjust="spacingAndGlyphs">For n</tspan><tspan x="99.63" y="2.07" font-size="32.07" stroke-width="1.36" textLength="20.66" lengthAdjust="spacingAndGlyphs">=</tspan><tspan x="121.75" y="0">5</tspan></text>
</g>
<g fill="#fff"><rect x="1063.73" y="1429.50" width="7.53" height="6.90"/><rect x="1077.18" y="1429.50" width="7.03" height="6.90"/><rect x="1482.83" y="1429.50" width="7.53" height="6.90"/><rect x="1496.28" y="1429.50" width="7.03" height="6.90"/><rect x="153.93" y="303.55" width="7.53" height="6.90"/><rect x="167.38" y="303.55" width="7.03" height="6.90"/><rect x="186.87" y="459.55" width="7.53" height="6.90"/><rect x="200.32" y="459.55" width="7.03" height="6.90"/><rect x="186.87" y="1083.55" width="7.53" height="6.90"/><rect x="200.32" y="1083.55" width="7.03" height="6.90"/><rect x="153.93" y="1239.55" width="7.53" height="6.90"/><rect x="167.38" y="1239.55" width="7.03" height="6.90"/><rect x="1763.62" y="71.84" width="10.51" height="6.68"/><rect x="1779.38" y="71.84" width="10.08" height="6.68"/><rect x="2260.67" y="197.52" width="7.53" height="7.07"/><rect x="2274.12" y="197.52" width="7.03" height="7.07"/></g>
</svg>
</body></html>
